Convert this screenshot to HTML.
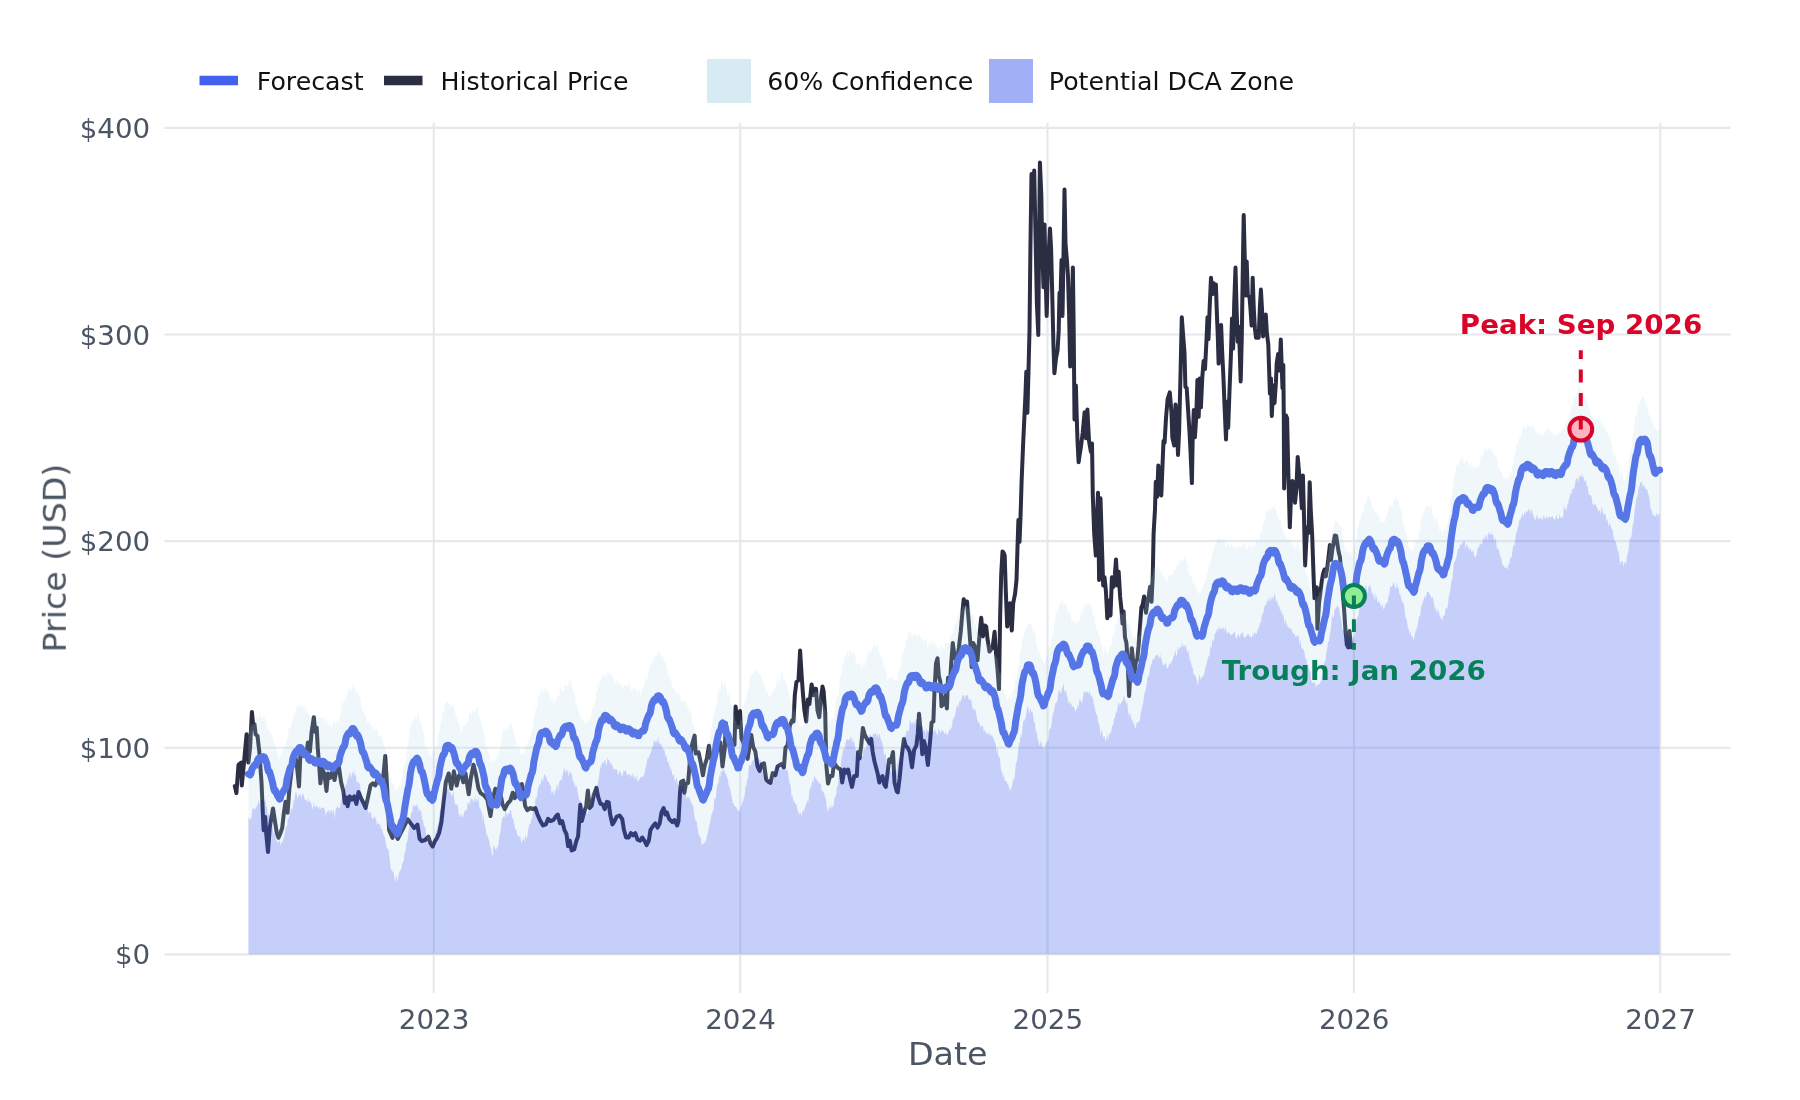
<!DOCTYPE html>
<html><head><meta charset="utf-8"><title>Price Forecast</title>
<style>
html,body{margin:0;padding:0;background:#fff}
svg{display:block}
text{font-family:"DejaVu Sans","Liberation Sans",sans-serif}
</style></head><body>
<svg width="1800" height="1100" viewBox="0 0 1800 1100">
<rect width="1800" height="1100" fill="#fff"/>

<g stroke="#e5e8ec" stroke-width="2.1" fill="none">
<path d="M164.5,127.85 H1730.6"/>
<path d="M164.5,334.5 H1730.6"/>
<path d="M164.5,541.1 H1730.6"/>
<path d="M164.5,747.75 H1730.6"/>
<path d="M164.5,954.4 H1730.6"/>
<path d="M433.75,122.8 V993.3"/>
<path d="M740.2,122.8 V993.3"/>
<path d="M1047.5,122.8 V993.3"/>
<path d="M1353.9,122.8 V993.3"/>
<path d="M1660.3,122.8 V993.3"/>
</g>
<path d="M234.8,786.1 L236.4,793.1 L238.5,764.7 L241.2,762.5 L241.8,785.5 L244.0,762.5 L246.6,734.2 L248.4,762.5 L250.1,747.3 L251.9,711.9 L253.2,725.5 L254.5,724.4 L255.6,734.2 L257.5,735.9 L259.3,751.6 L261.5,782.2 L263.0,817.1 L263.6,830.2 L265.2,817.1 L266.3,834.5 L268.0,852.0 L269.7,828.0 L270.8,821.5 L273.0,808.4 L275.0,821.5 L276.7,832.4 L278.5,837.8 L280.7,832.4 L282.2,828.0 L283.9,812.7 L285.5,801.8 L287.6,812.7 L289.4,788.7 L292.0,766.9 L295.3,756.0 L296.8,764.7 L299.0,786.5 L300.3,756.0 L302.9,756.0 L306.2,756.0 L307.9,742.5 L309.9,751.6 L311.6,732.0 L313.8,717.2 L315.3,732.0 L316.7,727.6 L317.7,747.3 L319.3,766.9 L320.4,783.3 L322.1,769.1 L324.3,773.5 L326.5,790.9 L328.0,773.5 L330.2,777.8 L332.4,771.3 L334.5,780.0 L336.7,769.1 L338.9,766.9 L341.1,782.2 L343.3,790.9 L344.8,802.9 L346.5,797.5 L347.6,806.2 L349.8,796.4 L352.0,799.6 L354.2,796.4 L356.4,804.0 L358.5,792.0 L360.7,797.5 L362.9,801.8 L365.7,807.9 L368.4,795.3 L370.5,785.5 L372.7,783.3 L375.3,785.5 L378.2,777.8 L381.5,782.2 L383.6,773.5 L385.2,756.0 L386.3,773.5 L387.3,790.9 L389.1,830.2 L392.4,837.8 L394.5,832.4 L397.8,838.9 L401.1,832.4 L404.4,825.8 L407.6,819.3 L410.9,823.6 L414.2,828.0 L417.5,824.7 L419.6,838.9 L421.8,841.1 L425.1,840.0 L428.4,836.7 L430.5,843.3 L432.7,846.5 L434.9,841.1 L437.1,837.8 L439.3,832.4 L441.5,821.5 L443.6,801.8 L445.8,782.2 L448.7,773.5 L451.3,788.7 L453.9,771.3 L456.7,785.5 L458.9,775.6 L461.1,773.5 L463.3,782.2 L465.5,773.5 L468.7,794.2 L470.9,777.8 L473.5,764.7 L475.7,773.5 L478.5,788.7 L480.7,793.1 L484.0,795.3 L487.3,799.6 L490.5,816.0 L492.7,799.6 L495.3,788.7 L498.2,790.9 L501.1,797.1 L502.6,804.7 L504.8,809.1 L507.6,803.6 L510.5,800.4 L512.7,792.7 L514.8,798.2 L517.5,790.5 L519.6,792.7 L521.8,784.0 L523.6,792.7 L525.1,805.8 L527.3,810.2 L530.5,808.0 L532.7,809.1 L535.3,808.0 L537.5,814.5 L540.4,821.1 L543.0,825.5 L545.8,824.4 L548.0,818.9 L550.6,821.1 L553.5,820.0 L555.6,816.7 L557.8,814.5 L560.0,823.3 L562.2,821.1 L564.4,829.8 L566.5,834.2 L568.1,846.2 L569.8,840.7 L571.6,850.5 L574.2,849.5 L576.4,840.7 L578.1,836.4 L579.6,814.5 L580.3,804.7 L581.8,821.1 L584.0,812.4 L586.2,805.8 L587.9,790.5 L589.5,808.0 L591.6,805.8 L593.8,794.9 L596.4,787.9 L598.2,797.1 L600.4,803.6 L603.0,804.7 L604.7,809.1 L606.9,801.9 L608.7,802.5 L610.2,814.5 L612.4,824.4 L614.5,821.1 L616.7,816.7 L619.6,815.6 L622.2,818.9 L623.9,829.8 L626.1,837.5 L628.7,837.5 L630.9,833.1 L633.1,835.3 L635.3,833.1 L637.5,839.6 L640.1,840.7 L642.3,837.5 L644.4,840.7 L646.6,845.1 L648.8,840.7 L650.5,829.8 L652.7,826.5 L655.3,823.3 L657.5,827.6 L659.7,823.3 L661.5,812.4 L663.6,808.0 L665.4,814.5 L666.9,812.4 L669.1,818.9 L672.4,822.2 L674.5,820.0 L677.2,825.5 L678.5,821.1 L680.0,792.7 L681.1,781.8 L683.3,780.7 L684.4,792.7 L685.9,784.0 L688.1,782.9 L689.8,762.2 L692.0,744.7 L694.6,735.6 L695.7,753.5 L698.5,752.4 L700.7,762.2 L702.9,775.3 L704.7,765.5 L706.8,758.9 L709.0,745.8 L710.5,757.8 L712.7,761.1 L715.6,753.5 L718.2,749.1 L720.4,742.5 L722.5,766.5 L724.7,749.1 L725.8,722.9 L728.0,744.7 L730.2,738.2 L732.4,742.5 L734.5,744.7 L735.6,706.5 L737.8,727.3 L740.0,710.9 L741.5,738.2 L743.3,742.5 L745.5,749.1 L747.6,758.9 L749.8,744.7 L751.3,734.9 L753.1,746.9 L755.3,751.3 L757.5,766.5 L759.6,770.9 L761.8,764.4 L764.0,763.3 L766.2,779.6 L768.4,781.8 L770.5,782.9 L772.7,773.1 L775.3,775.3 L777.5,766.5 L781.7,764.0 L783.9,767.3 L785.5,747.6 L787.6,745.5 L789.8,725.8 L792.0,720.4 L793.5,721.5 L794.8,695.3 L796.4,682.2 L798.5,680.0 L800.1,650.5 L801.8,677.8 L802.9,693.1 L804.4,710.5 L806.2,721.5 L807.9,699.6 L809.5,704.0 L811.6,684.4 L813.2,695.3 L814.5,688.7 L816.0,688.7 L817.5,710.5 L819.3,717.1 L820.8,699.6 L822.5,686.5 L823.6,690.9 L825.2,712.7 L826.3,765.1 L828.0,783.6 L830.2,776.0 L832.4,776.0 L834.1,762.9 L836.3,766.2 L838.5,768.4 L840.7,769.5 L842.2,782.5 L844.4,769.5 L846.5,772.7 L848.1,769.5 L849.8,778.2 L852.0,786.9 L854.2,776.0 L856.8,776.0 L858.1,752.0 L859.6,758.5 L861.2,745.5 L862.9,728.0 L864.7,734.5 L866.8,738.9 L869.5,743.3 L871.2,738.9 L872.7,752.0 L874.3,760.7 L876.0,767.3 L877.7,773.8 L879.3,782.5 L880.8,778.2 L882.5,776.0 L884.3,784.7 L885.8,786.9 L888.0,769.5 L889.1,759.6 L890.8,761.8 L893.0,752.0 L894.5,782.5 L896.7,791.3 L897.8,792.4 L899.6,778.2 L901.7,756.4 L903.9,738.9 L905.5,745.5 L907.6,747.6 L909.8,752.0 L912.0,767.3 L914.2,749.8 L916.4,745.5 L917.9,732.4 L919.0,713.8 L920.7,732.4 L922.3,754.2 L924.0,741.1 L925.7,747.6 L927.9,765.1 L930.1,741.1 L931.6,722.5 L933.4,721.5 L934.5,690.9 L936.0,663.6 L937.5,658.2 L938.8,675.6 L940.4,682.2 L941.5,706.2 L943.6,704.0 L945.4,695.3 L946.9,708.4 L948.0,677.8 L949.7,688.7 L951.3,661.5 L952.8,642.9 L954.5,656.0 L956.7,662.5 L958.9,647.3 L960.7,632.0 L962.2,614.5 L963.7,599.3 L965.5,603.6 L967.0,601.5 L968.7,621.1 L970.3,642.9 L971.6,666.9 L973.1,642.9 L975.3,647.3 L977.5,660.4 L979.6,634.2 L981.2,617.8 L982.9,636.4 L984.7,625.5 L986.2,626.5 L987.7,640.7 L989.5,651.6 L992.7,646.8 L994.6,631.8 L996.0,653.6 L997.6,670.0 L999.0,689.1 L1000.1,618.2 L1001.2,574.5 L1002.5,551.4 L1003.6,552.7 L1004.7,555.5 L1005.8,590.9 L1007.2,626.4 L1008.5,615.5 L1009.9,603.2 L1011.8,630.5 L1013.2,603.2 L1015.1,593.6 L1016.5,580.0 L1017.5,547.3 L1018.4,520.0 L1019.5,541.8 L1020.5,517.3 L1021.6,481.8 L1022.7,454.5 L1023.3,440.0 L1024.1,423.6 L1025.5,393.6 L1026.3,371.8 L1027.4,412.7 L1028.5,370.5 L1029.5,330.9 L1030.4,249.1 L1031.5,174.1 L1032.8,200.0 L1034.2,170.5 L1035.5,235.5 L1036.9,303.6 L1038.3,335.0 L1039.1,235.5 L1039.9,162.4 L1041.3,194.5 L1042.4,254.5 L1043.5,287.3 L1044.5,224.5 L1045.6,276.4 L1046.7,315.9 L1047.8,270.9 L1048.9,249.1 L1050.0,228.6 L1051.1,249.1 L1052.2,292.7 L1053.5,347.3 L1054.4,373.2 L1056.0,358.2 L1057.6,350.0 L1058.7,330.9 L1059.5,292.7 L1060.4,303.6 L1061.5,260.0 L1062.5,315.9 L1063.6,249.1 L1064.5,189.6 L1065.5,243.6 L1066.9,260.0 L1068.0,276.4 L1069.1,314.5 L1070.2,366.4 L1071.3,330.9 L1072.9,267.6 L1073.7,330.9 L1074.5,419.5 L1075.9,385.5 L1076.7,416.4 L1077.5,440.9 L1078.6,462.2 L1079.7,454.5 L1080.8,447.7 L1082.7,432.7 L1084.6,412.3 L1086.0,438.2 L1087.4,409.5 L1089.0,440.9 L1090.9,451.8 L1092.0,443.6 L1092.8,495.5 L1094.2,533.6 L1095.8,555.5 L1096.9,520.0 L1098.0,492.7 L1099.1,580.0 L1100.5,498.2 L1101.8,541.8 L1103.2,585.5 L1104.5,577.3 L1105.9,590.9 L1107.3,618.2 L1109.2,600.5 L1110.5,615.5 L1111.9,577.3 L1113.5,586.8 L1114.9,574.5 L1116.0,559.5 L1117.4,585.5 L1118.7,571.8 L1120.1,596.4 L1121.5,610.0 L1122.5,623.6 L1123.6,611.4 L1125.0,637.3 L1126.4,642.7 L1127.7,661.8 L1129.1,695.9 L1130.5,668.6 L1131.8,648.2 L1133.2,661.8 L1134.5,672.7 L1135.9,661.8 L1137.3,659.1 L1138.6,645.5 L1140.0,626.4 L1141.4,607.3 L1142.7,604.5 L1144.1,596.4 L1146.0,612.7 L1147.4,601.8 L1148.7,596.4 L1150.1,586.8 L1151.5,601.8 L1152.8,574.5 L1153.6,533.6 L1155.0,509.1 L1155.8,481.8 L1157.2,496.8 L1158.3,465.5 L1159.6,481.8 L1161.3,495.5 L1162.4,468.2 L1163.5,440.9 L1164.6,442.7 L1166.0,418.2 L1167.6,399.1 L1169.8,392.3 L1171.5,412.7 L1172.3,437.3 L1174.2,445.5 L1175.5,404.5 L1176.9,423.6 L1178.0,455.0 L1179.1,431.8 L1180.5,374.5 L1181.8,317.3 L1183.2,336.4 L1184.5,352.7 L1185.4,386.8 L1186.7,388.2 L1188.1,410.0 L1189.5,431.8 L1190.5,450.9 L1191.9,483.1 L1192.7,437.3 L1193.8,410.0 L1194.9,437.3 L1196.3,415.5 L1197.4,380.0 L1198.7,416.8 L1199.8,378.6 L1200.9,407.3 L1202.3,377.3 L1203.6,360.9 L1205.0,369.1 L1206.4,341.8 L1207.5,317.3 L1208.5,339.1 L1209.6,309.1 L1211.0,277.7 L1212.4,294.1 L1213.7,283.2 L1215.1,294.1 L1215.9,284.5 L1216.7,309.1 L1217.8,336.4 L1218.6,363.6 L1220.0,341.8 L1221.1,324.9 L1222.2,352.7 L1223.3,374.5 L1224.6,407.3 L1226.0,439.5 L1227.1,401.8 L1228.2,427.7 L1229.5,390.9 L1230.9,355.5 L1232.0,318.6 L1233.1,348.6 L1234.2,303.6 L1235.5,267.6 L1236.6,309.1 L1237.7,341.8 L1238.8,326.8 L1239.6,347.3 L1240.7,381.4 L1241.8,336.4 L1242.6,281.8 L1243.7,215.0 L1244.8,260.0 L1245.6,295.5 L1246.7,261.4 L1247.8,295.5 L1249.5,296.8 L1250.5,309.1 L1251.6,325.5 L1252.7,277.7 L1253.8,309.1 L1254.9,328.2 L1256.0,337.7 L1257.6,330.9 L1258.7,337.7 L1259.8,309.1 L1260.9,289.5 L1262.0,309.1 L1263.1,336.4 L1264.5,317.3 L1265.8,314.5 L1266.9,333.6 L1268.3,344.5 L1269.1,369.1 L1269.9,393.6 L1271.0,378.6 L1271.8,416.0 L1273.2,385.5 L1274.5,403.2 L1275.9,382.7 L1276.7,363.6 L1278.1,354.1 L1279.2,370.5 L1280.0,358.2 L1280.8,339.6 L1281.6,363.6 L1282.5,388.2 L1283.3,365.0 L1283.8,418.2 L1284.1,488.5 L1286.0,415.5 L1287.1,418.2 L1288.2,467.3 L1289.8,527.3 L1290.9,500.0 L1292.3,480.9 L1293.6,482.3 L1295.0,502.7 L1296.4,489.1 L1297.7,456.9 L1299.1,472.7 L1300.5,486.4 L1301.8,508.2 L1302.9,475.5 L1304.0,516.4 L1305.1,565.5 L1306.2,543.6 L1307.3,527.3 L1308.6,532.7 L1309.7,482.3 L1310.8,510.9 L1312.2,535.5 L1313.3,568.2 L1314.4,598.2 L1315.5,588.6 L1316.8,587.3 L1317.4,628.7 L1319.0,603.6 L1320.4,592.7 L1321.7,581.8 L1323.1,573.6 L1324.5,569.5 L1325.8,576.4 L1327.2,568.2 L1328.5,557.3 L1329.9,545.0 L1331.0,560.0 L1332.4,549.1 L1333.5,543.6 L1334.8,535.5 L1336.2,536.0 L1337.3,543.6 L1338.6,551.8 L1340.0,557.3 L1341.4,576.4 L1342.7,592.7 L1344.1,609.1 L1345.5,630.9 L1346.8,644.5 L1348.2,647.3 L1349.5,630.9 L1350.9,647.3 L1352.5,645.9" fill="none" stroke="#2b2d42" stroke-width="4" stroke-linejoin="round" stroke-linecap="round"/>
<path d="M248.4,736.5 L249.2,730.2 L250.1,728.9 L250.9,722.0 L251.8,727.5 L252.6,724.9 L253.4,723.2 L254.3,724.1 L255.1,722.5 L256.0,717.1 L256.8,716.7 L257.6,715.9 L258.5,718.8 L259.3,717.5 L260.2,712.2 L261.0,713.4 L261.8,717.8 L262.7,719.8 L263.5,716.4 L264.4,714.8 L265.2,720.9 L266.0,719.7 L266.9,724.1 L267.7,728.7 L268.5,729.4 L269.4,730.4 L270.2,734.9 L271.1,732.9 L271.9,736.3 L272.7,737.5 L273.6,741.4 L274.4,743.0 L275.3,746.2 L276.1,748.2 L276.9,753.0 L277.8,754.4 L278.6,756.7 L279.5,759.2 L280.3,751.4 L281.1,757.4 L282.0,753.0 L282.8,748.9 L283.7,750.5 L284.5,748.3 L285.3,748.4 L286.2,740.1 L287.0,740.2 L287.9,736.7 L288.7,728.5 L289.5,726.5 L290.4,728.3 L291.2,725.3 L292.1,722.8 L292.9,718.7 L293.7,715.7 L294.6,713.7 L295.4,714.2 L296.3,707.0 L297.1,707.2 L297.9,708.4 L298.8,702.9 L299.6,709.3 L300.5,702.9 L301.3,704.9 L302.1,711.6 L303.0,704.8 L303.8,705.8 L304.6,711.9 L305.5,705.9 L306.3,708.8 L307.2,712.6 L308.0,713.1 L308.8,715.2 L309.7,714.5 L310.5,718.3 L311.4,717.9 L312.2,717.6 L313.0,714.6 L313.9,715.5 L314.7,712.2 L315.6,720.0 L316.4,712.6 L317.2,720.2 L318.1,722.7 L318.9,715.7 L319.8,716.9 L320.6,717.4 L321.4,720.5 L322.3,716.6 L323.1,718.5 L324.0,718.1 L324.8,719.4 L325.6,723.7 L326.5,718.9 L327.3,722.3 L328.2,724.0 L329.0,726.3 L329.8,722.0 L330.7,727.9 L331.5,726.3 L332.4,727.0 L333.2,724.5 L334.0,719.8 L334.9,722.2 L335.7,724.4 L336.6,721.7 L337.4,720.1 L338.2,723.9 L339.1,723.2 L339.9,714.7 L340.7,716.1 L341.6,703.4 L342.4,700.7 L343.3,705.4 L344.1,700.6 L344.9,700.2 L345.8,698.0 L346.6,694.5 L347.5,694.6 L348.3,691.7 L349.1,686.8 L350.0,689.6 L350.8,688.6 L351.7,691.8 L352.5,684.2 L353.3,687.6 L354.2,687.3 L355.0,688.5 L355.9,693.7 L356.7,691.7 L357.5,690.9 L358.4,693.7 L359.2,697.7 L360.1,695.9 L360.9,700.4 L361.7,708.3 L362.6,710.5 L363.4,711.2 L364.3,713.2 L365.1,716.2 L365.9,714.4 L366.8,722.8 L367.6,722.6 L368.5,723.1 L369.3,720.3 L370.1,723.0 L371.0,726.7 L371.8,727.3 L372.7,726.2 L373.5,730.2 L374.3,731.6 L375.2,728.5 L376.0,729.6 L376.8,729.6 L377.7,730.1 L378.5,736.2 L379.4,736.2 L380.2,737.3 L381.0,734.8 L381.9,736.2 L382.7,741.7 L383.6,742.8 L384.4,747.6 L385.2,749.0 L386.1,756.2 L386.9,763.8 L387.8,768.6 L388.6,772.1 L389.4,772.0 L390.3,777.2 L391.1,777.5 L392.0,783.7 L392.8,783.3 L393.6,785.1 L394.5,785.8 L395.3,791.1 L396.2,790.8 L397.0,790.4 L397.8,786.4 L398.7,787.4 L399.5,781.6 L400.4,787.2 L401.2,780.2 L402.0,778.2 L402.9,774.5 L403.7,766.8 L404.6,763.5 L405.4,762.0 L406.2,760.9 L407.1,749.4 L407.9,744.6 L408.8,739.8 L409.6,730.6 L410.4,726.3 L411.3,725.3 L412.1,722.2 L412.9,718.7 L413.8,722.1 L414.6,716.4 L415.5,717.0 L416.3,719.7 L417.1,719.3 L418.0,712.5 L418.8,717.4 L419.7,723.3 L420.5,719.8 L421.3,724.4 L422.2,726.1 L423.0,729.7 L423.9,733.8 L424.7,741.2 L425.5,747.7 L426.4,751.3 L427.2,749.6 L428.1,747.5 L428.9,754.5 L429.7,755.5 L430.6,757.3 L431.4,755.2 L432.3,750.7 L433.1,755.4 L433.9,747.5 L434.8,748.1 L435.6,747.8 L436.5,745.1 L437.3,744.1 L438.1,729.6 L439.0,732.4 L439.8,729.0 L440.7,722.3 L441.5,719.9 L442.3,711.8 L443.2,713.2 L444.0,710.4 L444.9,704.0 L445.7,702.7 L446.5,702.4 L447.4,700.7 L448.2,704.5 L449.0,702.1 L449.9,705.3 L450.7,705.9 L451.6,704.0 L452.4,705.3 L453.2,706.3 L454.1,709.0 L454.9,711.7 L455.8,716.6 L456.6,716.0 L457.4,720.6 L458.3,723.0 L459.1,723.4 L460.0,726.2 L460.8,731.1 L461.6,731.6 L462.5,726.0 L463.3,727.5 L464.2,725.7 L465.0,723.8 L465.8,726.1 L466.7,722.3 L467.5,722.2 L468.4,720.6 L469.2,713.4 L470.0,712.5 L470.9,712.8 L471.7,714.2 L472.6,709.7 L473.4,710.7 L474.2,711.9 L475.1,711.3 L475.9,709.4 L476.8,707.1 L477.6,706.5 L478.4,715.8 L479.3,717.1 L480.1,716.9 L480.9,721.7 L481.8,725.7 L482.6,725.6 L483.5,733.9 L484.3,734.7 L485.1,739.2 L486.0,745.6 L486.8,746.8 L487.7,750.6 L488.5,752.4 L489.3,754.2 L490.2,755.9 L491.0,762.8 L491.9,759.2 L492.7,763.8 L493.5,757.9 L494.4,762.3 L495.2,760.5 L496.1,758.4 L496.9,753.0 L497.7,761.4 L498.6,752.1 L499.4,749.5 L500.3,747.7 L501.1,741.7 L501.9,737.2 L502.8,731.3 L503.6,726.7 L504.5,731.8 L505.3,726.6 L506.1,728.5 L507.0,729.3 L507.8,730.2 L508.7,726.3 L509.5,725.4 L510.3,725.2 L511.2,722.2 L512.0,727.3 L512.9,728.7 L513.7,730.5 L514.5,736.7 L515.4,738.1 L516.2,745.7 L517.0,747.9 L517.9,741.0 L518.7,748.0 L519.6,747.2 L520.4,753.5 L521.2,753.3 L522.1,755.4 L522.9,753.5 L523.8,754.7 L524.6,751.5 L525.4,745.2 L526.3,746.1 L527.1,744.8 L528.0,743.1 L528.8,738.8 L529.6,742.1 L530.5,733.5 L531.3,734.0 L532.2,726.9 L533.0,727.8 L533.8,716.3 L534.7,717.4 L535.5,708.8 L536.4,709.2 L537.2,707.6 L538.0,695.2 L538.9,694.7 L539.7,695.2 L540.6,691.5 L541.4,687.4 L542.2,693.1 L543.1,689.8 L543.9,693.1 L544.8,690.2 L545.6,687.1 L546.4,689.4 L547.3,694.3 L548.1,689.2 L549.0,693.3 L549.8,697.6 L550.6,700.6 L551.5,701.2 L552.3,697.0 L553.1,707.4 L554.0,701.9 L554.8,701.8 L555.7,701.2 L556.5,698.8 L557.3,696.1 L558.2,696.0 L559.0,698.3 L559.9,689.8 L560.7,686.2 L561.5,692.2 L562.4,690.0 L563.2,689.7 L564.1,691.3 L564.9,684.3 L565.7,685.1 L566.6,684.8 L567.4,686.7 L568.3,686.3 L569.1,680.8 L569.9,679.8 L570.8,683.3 L571.6,681.3 L572.5,691.2 L573.3,689.2 L574.1,692.4 L575.0,694.8 L575.8,703.8 L576.7,703.4 L577.5,705.7 L578.3,710.8 L579.2,711.9 L580.0,715.8 L580.9,719.1 L581.7,716.8 L582.5,720.0 L583.4,720.7 L584.2,724.0 L585.1,723.3 L585.9,722.6 L586.7,721.2 L587.6,722.7 L588.4,718.1 L589.2,721.7 L590.1,718.3 L590.9,717.3 L591.8,711.9 L592.6,707.9 L593.4,705.0 L594.3,707.5 L595.1,700.3 L596.0,697.1 L596.8,690.0 L597.6,690.9 L598.5,678.9 L599.3,688.8 L600.2,681.8 L601.0,680.4 L601.8,674.8 L602.7,673.9 L603.5,677.0 L604.4,674.0 L605.2,675.0 L606.0,677.4 L606.9,675.9 L607.7,669.5 L608.6,672.6 L609.4,673.0 L610.2,674.6 L611.1,672.6 L611.9,673.5 L612.8,677.9 L613.6,679.8 L614.4,683.6 L615.3,682.0 L616.1,686.5 L617.0,678.7 L617.8,680.5 L618.6,684.8 L619.5,683.8 L620.3,681.9 L621.2,686.6 L622.0,688.0 L622.8,688.3 L623.7,684.3 L624.5,685.4 L625.3,685.3 L626.2,684.8 L627.0,687.8 L627.9,684.7 L628.7,687.3 L629.5,680.4 L630.4,688.5 L631.2,691.5 L632.1,688.1 L632.9,691.2 L633.7,684.2 L634.6,689.0 L635.4,686.9 L636.3,692.3 L637.1,692.7 L637.9,688.4 L638.8,690.1 L639.6,690.8 L640.5,697.5 L641.3,690.6 L642.1,689.9 L643.0,689.1 L643.8,687.0 L644.7,683.3 L645.5,678.7 L646.3,677.9 L647.2,681.1 L648.0,674.2 L648.9,670.3 L649.7,665.7 L650.5,666.4 L651.4,663.7 L652.2,659.8 L653.1,661.7 L653.9,656.9 L654.7,656.2 L655.6,656.8 L656.4,654.2 L657.3,655.7 L658.1,651.3 L658.9,650.9 L659.8,653.1 L660.6,653.3 L661.4,656.9 L662.3,655.9 L663.1,657.0 L664.0,660.4 L664.8,663.3 L665.6,661.4 L666.5,666.6 L667.3,668.8 L668.2,675.8 L669.0,674.0 L669.8,681.2 L670.7,677.4 L671.5,683.8 L672.4,688.5 L673.2,687.4 L674.0,693.0 L674.9,686.5 L675.7,692.4 L676.6,694.4 L677.4,694.3 L678.2,691.5 L679.1,697.9 L679.9,691.1 L680.8,700.6 L681.6,700.8 L682.4,702.7 L683.3,700.3 L684.1,700.1 L685.0,701.8 L685.8,702.4 L686.6,705.8 L687.5,705.1 L688.3,708.7 L689.2,711.0 L690.0,715.1 L690.8,709.6 L691.7,717.0 L692.5,723.0 L693.4,726.2 L694.2,726.8 L695.0,731.2 L695.9,735.1 L696.7,738.8 L697.5,740.7 L698.4,744.3 L699.2,745.6 L700.1,749.9 L700.9,756.2 L701.7,751.7 L702.6,757.5 L703.4,760.9 L704.3,756.9 L705.1,761.1 L705.9,752.4 L706.8,754.8 L707.6,747.8 L708.5,741.1 L709.3,740.8 L710.1,740.0 L711.0,729.2 L711.8,726.8 L712.7,719.0 L713.5,714.7 L714.3,713.4 L715.2,707.4 L716.0,705.0 L716.9,702.3 L717.7,693.2 L718.5,690.3 L719.4,688.6 L720.2,691.9 L721.1,682.9 L721.9,680.8 L722.7,682.7 L723.6,687.6 L724.4,681.6 L725.3,684.3 L726.1,687.8 L726.9,692.0 L727.8,698.5 L728.6,692.5 L729.5,694.5 L730.3,702.2 L731.1,705.8 L732.0,701.7 L732.8,709.5 L733.6,716.4 L734.5,715.9 L735.3,720.4 L736.2,721.6 L737.0,725.2 L737.8,725.7 L738.7,724.5 L739.5,725.7 L740.4,719.3 L741.2,719.8 L742.0,719.7 L742.9,710.7 L743.7,706.9 L744.6,702.4 L745.4,697.5 L746.2,701.0 L747.1,692.9 L747.9,691.7 L748.8,685.1 L749.6,679.7 L750.4,675.8 L751.3,675.4 L752.1,673.2 L753.0,673.7 L753.8,668.2 L754.6,670.8 L755.5,671.9 L756.3,670.2 L757.2,670.1 L758.0,672.1 L758.8,673.4 L759.7,673.9 L760.5,675.3 L761.4,676.5 L762.2,682.1 L763.0,682.5 L763.9,681.2 L764.7,687.2 L765.6,691.3 L766.4,692.2 L767.2,690.7 L768.1,695.9 L768.9,695.9 L769.7,695.9 L770.6,697.5 L771.4,692.6 L772.3,694.2 L773.1,690.0 L773.9,691.4 L774.8,689.5 L775.6,686.2 L776.5,684.0 L777.3,678.1 L778.1,681.0 L779.0,675.8 L779.8,683.5 L780.7,681.3 L781.5,673.1 L782.3,670.9 L783.2,680.8 L784.0,675.6 L784.9,681.6 L785.7,679.5 L786.5,685.0 L787.4,686.0 L788.2,692.1 L789.1,693.1 L789.9,701.7 L790.7,698.8 L791.6,706.9 L792.4,706.8 L793.3,711.5 L794.1,708.8 L794.9,711.2 L795.8,719.9 L796.6,715.5 L797.5,720.7 L798.3,722.7 L799.1,723.1 L800.0,727.4 L800.8,724.6 L801.7,725.8 L802.5,731.3 L803.3,724.6 L804.2,726.2 L805.0,723.4 L805.8,722.9 L806.7,717.1 L807.5,708.6 L808.4,707.7 L809.2,705.8 L810.0,707.4 L810.9,701.8 L811.7,696.2 L812.6,696.1 L813.4,692.3 L814.2,693.9 L815.1,691.0 L815.9,692.9 L816.8,691.0 L817.6,692.9 L818.4,691.1 L819.3,695.3 L820.1,695.5 L821.0,699.7 L821.8,700.6 L822.6,702.6 L823.5,703.9 L824.3,706.8 L825.2,711.2 L826.0,706.8 L826.8,717.8 L827.7,711.1 L828.5,718.6 L829.4,719.5 L830.2,722.4 L831.0,720.8 L831.9,719.7 L832.7,718.8 L833.6,717.8 L834.4,717.4 L835.2,709.2 L836.1,698.8 L836.9,698.2 L837.8,695.3 L838.6,697.9 L839.4,682.0 L840.3,677.5 L841.1,675.1 L841.9,669.7 L842.8,661.9 L843.6,664.0 L844.5,654.9 L845.3,655.9 L846.1,657.8 L847.0,649.9 L847.8,651.9 L848.7,656.6 L849.5,651.1 L850.3,649.6 L851.2,651.1 L852.0,655.7 L852.9,650.5 L853.7,654.4 L854.5,653.4 L855.4,656.7 L856.2,665.3 L857.1,662.5 L857.9,662.3 L858.7,665.6 L859.6,664.0 L860.4,663.4 L861.3,668.8 L862.1,666.9 L862.9,662.3 L863.8,665.8 L864.6,666.4 L865.5,662.1 L866.3,660.2 L867.1,654.9 L868.0,655.7 L868.8,649.4 L869.7,654.8 L870.5,650.2 L871.3,653.2 L872.2,646.8 L873.0,649.2 L873.8,642.6 L874.7,645.2 L875.5,647.1 L876.4,646.5 L877.2,646.4 L878.0,643.5 L878.9,653.0 L879.7,653.2 L880.6,656.5 L881.4,658.9 L882.2,657.4 L883.1,662.2 L883.9,671.4 L884.8,664.9 L885.6,670.8 L886.4,671.2 L887.3,679.8 L888.1,679.0 L889.0,677.4 L889.8,679.1 L890.6,678.3 L891.5,677.1 L892.3,676.2 L893.2,680.5 L894.0,678.9 L894.8,682.4 L895.7,679.3 L896.5,679.5 L897.4,680.8 L898.2,670.8 L899.0,668.3 L899.9,670.4 L900.7,669.4 L901.6,658.1 L902.4,653.0 L903.2,653.1 L904.1,649.6 L904.9,648.4 L905.8,640.6 L906.6,640.2 L907.4,637.7 L908.3,632.6 L909.1,630.7 L909.9,634.5 L910.8,634.5 L911.6,630.6 L912.5,637.2 L913.3,635.2 L914.1,634.3 L915.0,635.5 L915.8,634.8 L916.7,635.9 L917.5,636.6 L918.3,635.5 L919.2,631.8 L920.0,637.6 L920.9,637.2 L921.7,637.7 L922.5,643.1 L923.4,637.6 L924.2,644.9 L925.1,640.9 L925.9,639.1 L926.7,639.9 L927.6,648.3 L928.4,645.8 L929.3,641.3 L930.1,644.1 L930.9,646.7 L931.8,639.6 L932.6,640.8 L933.5,644.1 L934.3,643.6 L935.1,642.7 L936.0,648.4 L936.8,645.8 L937.7,646.6 L938.5,651.4 L939.3,646.8 L940.2,652.7 L941.0,646.2 L941.9,645.7 L942.7,646.9 L943.5,649.5 L944.4,648.7 L945.2,647.3 L946.0,641.8 L946.9,642.6 L947.7,643.2 L948.6,643.7 L949.4,644.2 L950.2,632.6 L951.1,637.0 L951.9,633.9 L952.8,632.0 L953.6,630.3 L954.4,625.3 L955.3,621.3 L956.1,624.4 L957.0,621.6 L957.8,615.6 L958.6,614.9 L959.5,612.8 L960.3,609.2 L961.2,612.9 L962.0,608.6 L962.8,605.3 L963.7,606.3 L964.5,611.1 L965.4,606.2 L966.2,606.2 L967.0,606.4 L967.9,608.8 L968.7,609.8 L969.6,605.3 L970.4,608.9 L971.2,610.1 L972.1,614.4 L972.9,616.4 L973.8,614.1 L974.6,624.5 L975.4,625.3 L976.3,622.8 L977.1,632.2 L978.0,631.6 L978.8,634.6 L979.6,634.7 L980.5,636.9 L981.3,637.4 L982.1,635.9 L983.0,639.6 L983.8,642.4 L984.7,643.1 L985.5,645.8 L986.3,644.6 L987.2,638.8 L988.0,647.2 L988.9,644.2 L989.7,644.2 L990.5,647.4 L991.4,645.7 L992.2,650.2 L993.1,648.1 L993.9,656.7 L994.7,654.4 L995.6,655.6 L996.4,658.4 L997.3,658.0 L998.1,665.4 L998.9,669.5 L999.8,674.0 L1000.6,671.9 L1001.5,681.2 L1002.3,687.8 L1003.1,687.2 L1004.0,690.9 L1004.8,694.4 L1005.7,693.8 L1006.5,696.2 L1007.3,700.8 L1008.2,699.7 L1009.0,695.4 L1009.9,693.5 L1010.7,703.0 L1011.5,696.8 L1012.4,689.7 L1013.2,691.1 L1014.1,688.5 L1014.9,684.0 L1015.7,675.0 L1016.6,679.6 L1017.4,672.2 L1018.2,665.0 L1019.1,662.3 L1019.9,655.5 L1020.8,650.2 L1021.6,647.5 L1022.4,636.3 L1023.3,639.5 L1024.1,633.9 L1025.0,631.2 L1025.8,628.7 L1026.6,628.1 L1027.5,626.6 L1028.3,624.8 L1029.2,622.0 L1030.0,624.7 L1030.8,623.3 L1031.7,624.8 L1032.5,630.1 L1033.4,631.6 L1034.2,636.1 L1035.0,630.1 L1035.9,640.7 L1036.7,644.9 L1037.6,646.3 L1038.4,653.0 L1039.2,650.4 L1040.1,656.2 L1040.9,656.5 L1041.8,660.3 L1042.6,659.7 L1043.4,662.6 L1044.3,663.9 L1045.1,661.1 L1046.0,659.6 L1046.8,654.4 L1047.6,656.5 L1048.5,647.6 L1049.3,646.6 L1050.2,645.2 L1051.0,640.1 L1051.8,638.4 L1052.7,633.1 L1053.5,633.1 L1054.3,625.4 L1055.2,620.0 L1056.0,613.1 L1056.9,612.3 L1057.7,611.1 L1058.5,607.8 L1059.4,603.0 L1060.2,603.1 L1061.1,603.2 L1061.9,603.2 L1062.7,598.9 L1063.6,607.5 L1064.4,602.8 L1065.3,604.3 L1066.1,603.7 L1066.9,606.7 L1067.8,614.5 L1068.6,610.2 L1069.5,613.0 L1070.3,613.5 L1071.1,616.9 L1072.0,623.7 L1072.8,619.6 L1073.7,621.4 L1074.5,618.7 L1075.3,623.1 L1076.2,624.2 L1077.0,621.4 L1077.9,620.4 L1078.7,621.8 L1079.5,619.3 L1080.4,616.0 L1081.2,611.9 L1082.1,608.2 L1082.9,613.9 L1083.7,603.9 L1084.6,608.0 L1085.4,604.6 L1086.3,602.5 L1087.1,606.3 L1087.9,601.5 L1088.8,606.6 L1089.6,601.2 L1090.4,605.6 L1091.3,608.9 L1092.1,605.6 L1093.0,616.6 L1093.8,616.7 L1094.6,612.7 L1095.5,625.5 L1096.3,630.8 L1097.2,628.7 L1098.0,632.4 L1098.8,637.2 L1099.7,634.5 L1100.5,642.1 L1101.4,646.3 L1102.2,645.3 L1103.0,651.5 L1103.9,655.7 L1104.7,645.9 L1105.6,648.0 L1106.4,651.3 L1107.2,655.2 L1108.1,653.0 L1108.9,648.4 L1109.8,646.0 L1110.6,645.3 L1111.4,647.5 L1112.3,636.8 L1113.1,634.2 L1114.0,635.3 L1114.8,628.1 L1115.6,623.0 L1116.5,625.5 L1117.3,620.4 L1118.2,615.6 L1119.0,614.0 L1119.8,615.5 L1120.7,612.4 L1121.5,613.3 L1122.4,615.0 L1123.2,614.9 L1124.0,608.3 L1124.9,612.7 L1125.7,615.3 L1126.5,618.0 L1127.4,621.8 L1128.2,625.6 L1129.1,623.9 L1129.9,624.4 L1130.7,630.1 L1131.6,630.7 L1132.4,638.1 L1133.3,636.2 L1134.1,636.1 L1134.9,639.7 L1135.8,636.7 L1136.6,637.8 L1137.5,637.0 L1138.3,637.1 L1139.1,636.0 L1140.0,631.9 L1140.8,628.6 L1141.7,621.3 L1142.5,618.3 L1143.3,611.8 L1144.2,611.3 L1145.0,602.5 L1145.9,598.4 L1146.7,594.5 L1147.5,591.7 L1148.4,584.1 L1149.2,582.2 L1150.1,577.4 L1150.9,573.6 L1151.7,578.2 L1152.6,574.4 L1153.4,567.4 L1154.3,567.2 L1155.1,570.3 L1155.9,566.4 L1156.8,564.0 L1157.6,570.1 L1158.5,566.6 L1159.3,568.3 L1160.1,572.2 L1161.0,570.1 L1161.8,573.3 L1162.6,575.3 L1163.5,577.6 L1164.3,575.1 L1165.2,580.6 L1166.0,578.7 L1166.8,582.7 L1167.7,579.0 L1168.5,576.5 L1169.4,576.1 L1170.2,573.5 L1171.0,575.5 L1171.9,574.7 L1172.7,575.1 L1173.6,571.0 L1174.4,567.7 L1175.2,571.0 L1176.1,565.4 L1176.9,564.9 L1177.8,566.2 L1178.6,565.0 L1179.4,559.1 L1180.3,558.9 L1181.1,561.6 L1182.0,560.2 L1182.8,559.6 L1183.6,561.3 L1184.5,554.7 L1185.3,560.8 L1186.2,559.8 L1187.0,563.7 L1187.8,566.7 L1188.7,571.6 L1189.5,574.9 L1190.4,575.5 L1191.2,576.1 L1192.0,577.4 L1192.9,583.8 L1193.7,584.1 L1194.6,580.4 L1195.4,586.7 L1196.2,589.9 L1197.1,587.6 L1197.9,591.4 L1198.7,595.5 L1199.6,591.4 L1200.4,592.3 L1201.3,591.8 L1202.1,588.6 L1202.9,587.7 L1203.8,583.7 L1204.6,582.1 L1205.5,577.4 L1206.3,578.2 L1207.1,573.0 L1208.0,572.3 L1208.8,564.2 L1209.7,563.8 L1210.5,562.7 L1211.3,559.1 L1212.2,553.1 L1213.0,551.2 L1213.9,548.8 L1214.7,545.3 L1215.5,543.5 L1216.4,544.0 L1217.2,538.8 L1218.1,536.7 L1218.9,538.8 L1219.7,540.9 L1220.6,533.7 L1221.4,542.8 L1222.3,539.4 L1223.1,540.9 L1223.9,537.5 L1224.8,541.3 L1225.6,546.4 L1226.5,547.4 L1227.3,545.5 L1228.1,543.5 L1229.0,545.2 L1229.8,549.2 L1230.7,544.3 L1231.5,544.4 L1232.3,546.4 L1233.2,549.1 L1234.0,543.9 L1234.8,547.5 L1235.7,548.2 L1236.5,547.2 L1237.4,546.3 L1238.2,549.3 L1239.0,547.4 L1239.9,542.2 L1240.7,549.3 L1241.6,545.8 L1242.4,546.1 L1243.2,544.4 L1244.1,544.8 L1244.9,540.1 L1245.8,546.8 L1246.6,549.2 L1247.4,549.6 L1248.3,546.1 L1249.1,542.2 L1250.0,544.9 L1250.8,546.2 L1251.6,550.1 L1252.5,542.2 L1253.3,545.6 L1254.2,547.0 L1255.0,546.8 L1255.8,544.4 L1256.7,536.3 L1257.5,542.7 L1258.4,540.1 L1259.2,539.7 L1260.0,533.3 L1260.9,531.1 L1261.7,533.1 L1262.6,526.1 L1263.4,523.4 L1264.2,518.4 L1265.1,520.4 L1265.9,510.3 L1266.7,511.3 L1267.6,512.2 L1268.4,509.3 L1269.3,510.2 L1270.1,508.6 L1270.9,510.7 L1271.8,507.0 L1272.6,507.0 L1273.5,507.4 L1274.3,502.7 L1275.1,511.8 L1276.0,507.0 L1276.8,514.3 L1277.7,517.3 L1278.5,518.8 L1279.3,519.7 L1280.2,520.2 L1281.0,518.9 L1281.9,528.2 L1282.7,528.8 L1283.5,536.0 L1284.4,532.7 L1285.2,537.2 L1286.1,536.2 L1286.9,539.9 L1287.7,538.7 L1288.6,540.3 L1289.4,535.9 L1290.3,540.2 L1291.1,542.3 L1291.9,546.6 L1292.8,544.7 L1293.6,541.5 L1294.5,549.1 L1295.3,546.7 L1296.1,548.8 L1297.0,544.7 L1297.8,539.3 L1298.7,546.9 L1299.5,547.7 L1300.3,552.4 L1301.2,550.4 L1302.0,555.0 L1302.8,556.0 L1303.7,563.1 L1304.5,562.9 L1305.4,572.4 L1306.2,573.9 L1307.0,576.8 L1307.9,577.0 L1308.7,581.8 L1309.6,585.9 L1310.4,584.5 L1311.2,592.3 L1312.1,591.3 L1312.9,596.7 L1313.8,601.2 L1314.6,600.7 L1315.4,595.3 L1316.3,601.7 L1317.1,597.4 L1318.0,596.4 L1318.8,595.8 L1319.6,591.4 L1320.5,593.4 L1321.3,588.4 L1322.2,589.2 L1323.0,583.0 L1323.8,572.1 L1324.7,571.9 L1325.5,568.4 L1326.4,564.7 L1327.2,558.9 L1328.0,556.2 L1328.9,550.5 L1329.7,543.1 L1330.6,542.2 L1331.4,537.4 L1332.2,530.4 L1333.1,530.3 L1333.9,525.4 L1334.8,520.4 L1335.6,520.4 L1336.4,521.1 L1337.3,522.9 L1338.1,522.0 L1338.9,525.5 L1339.8,527.8 L1340.6,524.4 L1341.5,527.0 L1342.3,533.8 L1343.1,539.3 L1344.0,545.0 L1344.8,549.3 L1345.7,552.4 L1346.5,549.6 L1347.3,553.2 L1348.2,550.8 L1349.0,553.8 L1349.9,554.2 L1350.7,550.3 L1351.5,551.8 L1352.4,558.5 L1353.2,549.5 L1354.1,552.3 L1354.9,547.0 L1355.7,539.8 L1356.6,539.1 L1357.4,530.1 L1358.3,526.7 L1359.1,523.3 L1359.9,515.1 L1360.8,520.6 L1361.6,514.2 L1362.5,512.7 L1363.3,513.2 L1364.1,505.9 L1365.0,504.1 L1365.8,502.3 L1366.7,504.0 L1367.5,495.8 L1368.3,497.6 L1369.2,492.9 L1370.0,499.6 L1370.9,502.3 L1371.7,501.4 L1372.5,509.1 L1373.4,509.1 L1374.2,512.7 L1375.0,510.1 L1375.9,515.9 L1376.7,511.5 L1377.6,514.9 L1378.4,515.9 L1379.2,515.8 L1380.1,523.0 L1380.9,523.0 L1381.8,519.0 L1382.6,523.2 L1383.4,521.5 L1384.3,521.8 L1385.1,521.9 L1386.0,516.7 L1386.8,516.0 L1387.6,512.7 L1388.5,507.6 L1389.3,505.9 L1390.2,506.9 L1391.0,502.6 L1391.8,507.4 L1392.7,505.8 L1393.5,498.7 L1394.4,501.5 L1395.2,495.2 L1396.0,499.5 L1396.9,499.4 L1397.7,500.0 L1398.6,498.3 L1399.4,506.9 L1400.2,508.9 L1401.1,510.0 L1401.9,514.9 L1402.8,521.4 L1403.6,527.2 L1404.4,523.6 L1405.3,534.6 L1406.1,529.6 L1407.0,535.8 L1407.8,539.7 L1408.6,547.4 L1409.5,547.0 L1410.3,548.5 L1411.1,551.8 L1412.0,549.6 L1412.8,547.6 L1413.7,552.3 L1414.5,546.3 L1415.3,542.2 L1416.2,539.4 L1417.0,541.3 L1417.9,541.5 L1418.7,534.9 L1419.5,529.3 L1420.4,528.8 L1421.2,518.3 L1422.1,519.1 L1422.9,512.6 L1423.7,515.1 L1424.6,507.3 L1425.4,509.7 L1426.3,506.7 L1427.1,505.3 L1427.9,507.1 L1428.8,505.1 L1429.6,509.2 L1430.5,506.1 L1431.3,502.3 L1432.1,513.6 L1433.0,515.2 L1433.8,515.0 L1434.7,519.6 L1435.5,520.1 L1436.3,518.4 L1437.2,518.3 L1438.0,523.1 L1438.9,527.8 L1439.7,531.6 L1440.5,527.5 L1441.4,529.8 L1442.2,536.0 L1443.1,529.7 L1443.9,528.9 L1444.7,527.1 L1445.6,531.9 L1446.4,528.0 L1447.2,523.7 L1448.1,522.4 L1448.9,516.5 L1449.8,511.7 L1450.6,503.6 L1451.4,499.4 L1452.3,491.9 L1453.1,487.0 L1454.0,477.0 L1454.8,474.8 L1455.6,470.1 L1456.5,465.7 L1457.3,463.8 L1458.2,467.0 L1459.0,463.3 L1459.8,459.6 L1460.7,458.8 L1461.5,461.2 L1462.4,454.5 L1463.2,459.0 L1464.0,462.5 L1464.9,463.1 L1465.7,461.9 L1466.6,462.1 L1467.4,457.6 L1468.2,461.9 L1469.1,465.3 L1469.9,467.0 L1470.8,468.0 L1471.6,461.3 L1472.4,466.6 L1473.3,468.4 L1474.1,465.9 L1475.0,467.0 L1475.8,469.1 L1476.6,467.8 L1477.5,467.0 L1478.3,466.8 L1479.2,466.4 L1480.0,460.8 L1480.8,456.7 L1481.7,455.8 L1482.5,454.5 L1483.3,453.9 L1484.2,448.8 L1485.0,449.0 L1485.9,448.3 L1486.7,452.3 L1487.5,449.7 L1488.4,447.4 L1489.2,450.0 L1490.1,448.1 L1490.9,449.0 L1491.7,452.3 L1492.6,451.3 L1493.4,451.9 L1494.3,455.8 L1495.1,455.5 L1495.9,459.6 L1496.8,456.3 L1497.6,462.9 L1498.5,470.0 L1499.3,467.8 L1500.1,470.9 L1501.0,471.7 L1501.8,472.0 L1502.7,477.7 L1503.5,477.7 L1504.3,482.0 L1505.2,477.0 L1506.0,479.3 L1506.9,478.1 L1507.7,477.2 L1508.5,479.5 L1509.4,473.9 L1510.2,472.0 L1511.1,478.1 L1511.9,468.9 L1512.7,464.9 L1513.6,462.3 L1514.4,454.5 L1515.3,454.1 L1516.1,446.0 L1516.9,444.3 L1517.8,440.3 L1518.6,442.2 L1519.4,437.0 L1520.3,438.2 L1521.1,435.8 L1522.0,427.9 L1522.8,429.3 L1523.6,425.9 L1524.5,424.6 L1525.3,428.9 L1526.2,428.7 L1527.0,424.8 L1527.8,425.5 L1528.7,425.6 L1529.5,426.0 L1530.4,426.1 L1531.2,423.3 L1532.0,428.3 L1532.9,425.7 L1533.7,425.2 L1534.6,429.0 L1535.4,430.9 L1536.2,433.4 L1537.1,432.9 L1537.9,433.2 L1538.8,431.8 L1539.6,434.9 L1540.4,434.3 L1541.3,434.4 L1542.1,432.0 L1543.0,437.7 L1543.8,434.6 L1544.6,433.2 L1545.5,431.2 L1546.3,430.1 L1547.2,432.7 L1548.0,426.6 L1548.8,428.7 L1549.7,430.3 L1550.5,433.0 L1551.4,431.1 L1552.2,435.5 L1553.0,428.4 L1553.9,437.2 L1554.7,434.1 L1555.5,435.3 L1556.4,432.2 L1557.2,435.9 L1558.1,432.6 L1558.9,434.3 L1559.7,429.3 L1560.6,434.1 L1561.4,432.0 L1562.3,425.5 L1563.1,429.2 L1563.9,427.3 L1564.8,428.0 L1565.6,422.6 L1566.5,422.8 L1567.3,424.0 L1568.1,415.9 L1569.0,420.4 L1569.8,414.2 L1570.7,410.3 L1571.5,405.3 L1572.3,402.0 L1573.2,406.3 L1574.0,399.8 L1574.9,396.6 L1575.7,398.7 L1576.5,395.6 L1577.4,392.5 L1578.2,386.4 L1579.1,384.0 L1579.9,390.8 L1580.7,388.0 L1581.6,387.8 L1582.4,394.6 L1583.3,389.6 L1584.1,393.2 L1584.9,399.7 L1585.8,398.1 L1586.6,398.6 L1587.5,400.9 L1588.3,408.6 L1589.1,404.4 L1590.0,411.9 L1590.8,415.7 L1591.6,413.5 L1592.5,416.9 L1593.3,416.1 L1594.2,421.1 L1595.0,419.3 L1595.8,417.6 L1596.7,420.8 L1597.5,420.6 L1598.4,420.0 L1599.2,421.5 L1600.0,420.2 L1600.9,422.6 L1601.7,427.3 L1602.6,421.5 L1603.4,427.8 L1604.2,427.2 L1605.1,426.5 L1605.9,432.6 L1606.8,431.7 L1607.6,430.4 L1608.4,435.0 L1609.3,439.8 L1610.1,435.8 L1611.0,443.4 L1611.8,444.3 L1612.6,449.0 L1613.5,456.5 L1614.3,453.0 L1615.2,456.3 L1616.0,457.1 L1616.8,463.1 L1617.7,466.8 L1618.5,461.8 L1619.4,474.7 L1620.2,476.6 L1621.0,468.1 L1621.9,472.2 L1622.7,478.6 L1623.6,479.2 L1624.4,481.7 L1625.2,477.1 L1626.1,480.2 L1626.9,470.8 L1627.7,471.1 L1628.6,464.5 L1629.4,459.7 L1630.3,450.8 L1631.1,448.4 L1631.9,446.7 L1632.8,435.2 L1633.6,430.8 L1634.5,425.6 L1635.3,416.9 L1636.1,415.7 L1637.0,412.8 L1637.8,407.1 L1638.7,400.3 L1639.5,406.1 L1640.3,400.8 L1641.2,399.3 L1642.0,398.6 L1642.9,397.8 L1643.7,395.2 L1644.5,399.2 L1645.4,401.2 L1646.2,404.9 L1647.1,408.5 L1647.9,405.5 L1648.7,415.5 L1649.6,414.9 L1650.4,418.8 L1651.3,417.4 L1652.1,423.0 L1652.9,422.9 L1653.8,429.9 L1654.6,425.7 L1655.5,430.0 L1656.3,428.8 L1657.1,430.8 L1658.0,430.5 L1658.8,429.9 L1659.6,427.9 L1659.6,514.0 L1658.8,513.7 L1658.0,517.0 L1657.1,513.5 L1656.3,513.2 L1655.5,516.6 L1654.6,516.2 L1653.8,514.9 L1652.9,515.5 L1652.1,510.8 L1651.3,510.0 L1650.4,507.2 L1649.6,498.7 L1648.7,495.0 L1647.9,493.6 L1647.1,489.3 L1646.2,489.2 L1645.4,489.2 L1644.5,485.8 L1643.7,484.8 L1642.9,487.6 L1642.0,482.4 L1641.2,481.7 L1640.3,482.5 L1639.5,486.3 L1638.7,487.9 L1637.8,494.2 L1637.0,497.6 L1636.1,499.2 L1635.3,506.2 L1634.5,511.3 L1633.6,523.5 L1632.8,523.7 L1631.9,532.4 L1631.1,539.2 L1630.3,536.5 L1629.4,542.1 L1628.6,549.1 L1627.7,554.7 L1626.9,556.0 L1626.1,564.9 L1625.2,561.7 L1624.4,562.0 L1623.6,567.1 L1622.7,561.2 L1621.9,560.9 L1621.0,561.4 L1620.2,564.7 L1619.4,557.4 L1618.5,550.8 L1617.7,551.3 L1616.8,546.7 L1616.0,542.3 L1615.2,540.6 L1614.3,540.4 L1613.5,536.3 L1612.6,529.4 L1611.8,529.5 L1611.0,526.7 L1610.1,524.7 L1609.3,523.0 L1608.4,527.0 L1607.6,518.9 L1606.8,521.7 L1605.9,516.5 L1605.1,513.8 L1604.2,513.4 L1603.4,515.5 L1602.6,510.7 L1601.7,505.2 L1600.9,515.4 L1600.0,509.4 L1599.2,510.3 L1598.4,512.4 L1597.5,508.0 L1596.7,507.2 L1595.8,503.9 L1595.0,504.4 L1594.2,504.9 L1593.3,504.5 L1592.5,504.0 L1591.6,497.2 L1590.8,494.7 L1590.0,495.2 L1589.1,494.8 L1588.3,491.3 L1587.5,485.8 L1586.6,485.3 L1585.8,479.4 L1584.9,481.9 L1584.1,480.2 L1583.3,475.7 L1582.4,476.9 L1581.6,474.0 L1580.7,477.5 L1579.9,476.8 L1579.1,475.2 L1578.2,482.8 L1577.4,478.7 L1576.5,478.4 L1575.7,480.0 L1574.9,485.3 L1574.0,489.1 L1573.2,489.0 L1572.3,488.6 L1571.5,493.7 L1570.7,493.0 L1569.8,496.8 L1569.0,498.1 L1568.1,504.4 L1567.3,504.6 L1566.5,511.2 L1565.6,507.9 L1564.8,510.0 L1563.9,504.6 L1563.1,518.1 L1562.3,516.9 L1561.4,517.5 L1560.6,518.4 L1559.7,513.2 L1558.9,518.7 L1558.1,519.4 L1557.2,518.0 L1556.4,514.8 L1555.5,518.5 L1554.7,519.7 L1553.9,519.5 L1553.0,516.9 L1552.2,516.2 L1551.4,517.0 L1550.5,517.7 L1549.7,516.2 L1548.8,517.2 L1548.0,519.5 L1547.2,515.9 L1546.3,517.1 L1545.5,519.3 L1544.6,517.7 L1543.8,514.9 L1543.0,518.5 L1542.1,521.1 L1541.3,516.4 L1540.4,519.6 L1539.6,518.0 L1538.8,518.3 L1537.9,519.5 L1537.1,513.2 L1536.2,518.1 L1535.4,520.0 L1534.6,519.0 L1533.7,516.0 L1532.9,514.0 L1532.0,510.8 L1531.2,508.9 L1530.4,513.8 L1529.5,510.5 L1528.7,507.4 L1527.8,512.6 L1527.0,510.6 L1526.2,511.8 L1525.3,514.6 L1524.5,511.5 L1523.6,518.0 L1522.8,513.0 L1522.0,515.0 L1521.1,518.0 L1520.3,519.4 L1519.4,519.5 L1518.6,525.8 L1517.8,527.3 L1516.9,532.9 L1516.1,532.3 L1515.3,540.4 L1514.4,546.6 L1513.6,544.5 L1512.7,548.8 L1511.9,555.7 L1511.1,557.9 L1510.2,557.3 L1509.4,564.6 L1508.5,563.8 L1507.7,570.7 L1506.9,566.2 L1506.0,568.2 L1505.2,568.1 L1504.3,567.1 L1503.5,564.8 L1502.7,566.6 L1501.8,561.5 L1501.0,557.3 L1500.1,556.6 L1499.3,551.6 L1498.5,548.6 L1497.6,548.8 L1496.8,548.6 L1495.9,537.4 L1495.1,539.7 L1494.3,541.7 L1493.4,535.2 L1492.6,534.5 L1491.7,534.7 L1490.9,531.8 L1490.1,534.2 L1489.2,534.9 L1488.4,531.3 L1487.5,541.5 L1486.7,535.1 L1485.9,534.7 L1485.0,539.9 L1484.2,536.9 L1483.3,539.6 L1482.5,541.7 L1481.7,545.0 L1480.8,544.1 L1480.0,542.7 L1479.2,546.6 L1478.3,547.6 L1477.5,549.0 L1476.6,553.6 L1475.8,557.8 L1475.0,556.0 L1474.1,556.6 L1473.3,550.0 L1472.4,551.4 L1471.6,551.8 L1470.8,549.7 L1469.9,547.5 L1469.1,550.8 L1468.2,547.2 L1467.4,545.8 L1466.6,543.5 L1465.7,550.1 L1464.9,543.1 L1464.0,539.3 L1463.2,544.1 L1462.4,541.6 L1461.5,545.5 L1460.7,543.8 L1459.8,545.8 L1459.0,549.6 L1458.2,547.7 L1457.3,551.7 L1456.5,557.2 L1455.6,559.2 L1454.8,563.1 L1454.0,560.4 L1453.1,571.5 L1452.3,579.8 L1451.4,580.8 L1450.6,587.9 L1449.8,592.7 L1448.9,595.7 L1448.1,603.1 L1447.2,608.9 L1446.4,608.1 L1445.6,607.6 L1444.7,615.2 L1443.9,616.0 L1443.1,616.1 L1442.2,620.4 L1441.4,619.3 L1440.5,616.7 L1439.7,616.1 L1438.9,612.6 L1438.0,607.7 L1437.2,613.3 L1436.3,610.9 L1435.5,606.3 L1434.7,609.8 L1433.8,602.2 L1433.0,598.6 L1432.1,596.1 L1431.3,598.9 L1430.5,594.9 L1429.6,594.7 L1428.8,592.1 L1427.9,591.8 L1427.1,592.1 L1426.3,594.7 L1425.4,598.5 L1424.6,595.6 L1423.7,600.4 L1422.9,600.7 L1422.1,606.1 L1421.2,605.3 L1420.4,614.6 L1419.5,616.4 L1418.7,617.8 L1417.9,623.7 L1417.0,627.3 L1416.2,630.7 L1415.3,631.5 L1414.5,636.0 L1413.7,641.7 L1412.8,636.7 L1412.0,635.6 L1411.1,637.2 L1410.3,630.0 L1409.5,634.3 L1408.6,628.8 L1407.8,627.4 L1407.0,621.8 L1406.1,617.3 L1405.3,617.1 L1404.4,607.4 L1403.6,603.6 L1402.8,602.4 L1401.9,601.2 L1401.1,597.9 L1400.2,593.5 L1399.4,594.5 L1398.6,587.3 L1397.7,587.9 L1396.9,581.2 L1396.0,588.7 L1395.2,588.4 L1394.4,585.1 L1393.5,581.8 L1392.7,584.8 L1391.8,587.3 L1391.0,586.6 L1390.2,586.6 L1389.3,594.8 L1388.5,595.9 L1387.6,601.8 L1386.8,603.0 L1386.0,603.4 L1385.1,605.1 L1384.3,608.2 L1383.4,609.5 L1382.6,603.0 L1381.8,608.5 L1380.9,605.0 L1380.1,604.6 L1379.2,601.1 L1378.4,602.1 L1377.6,603.1 L1376.7,595.0 L1375.9,599.9 L1375.0,591.8 L1374.2,601.1 L1373.4,594.5 L1372.5,594.1 L1371.7,591.7 L1370.9,587.2 L1370.0,584.7 L1369.2,586.4 L1368.3,586.8 L1367.5,593.8 L1366.7,587.5 L1365.8,584.7 L1365.0,590.5 L1364.1,587.9 L1363.3,598.5 L1362.5,600.7 L1361.6,602.0 L1360.8,604.2 L1359.9,604.2 L1359.1,610.6 L1358.3,616.7 L1357.4,616.3 L1356.6,620.3 L1355.7,630.0 L1354.9,635.6 L1354.1,639.9 L1353.2,634.6 L1352.4,640.3 L1351.5,644.6 L1350.7,640.2 L1349.9,634.8 L1349.0,644.1 L1348.2,635.6 L1347.3,635.4 L1346.5,632.9 L1345.7,643.6 L1344.8,635.3 L1344.0,632.0 L1343.1,630.2 L1342.3,628.5 L1341.5,622.1 L1340.6,617.0 L1339.8,613.3 L1338.9,607.1 L1338.1,607.3 L1337.3,604.8 L1336.4,607.7 L1335.6,609.0 L1334.8,608.3 L1333.9,615.1 L1333.1,619.1 L1332.2,614.6 L1331.4,622.5 L1330.6,631.5 L1329.7,634.5 L1328.9,642.2 L1328.0,641.1 L1327.2,648.7 L1326.4,651.6 L1325.5,661.4 L1324.7,661.2 L1323.8,666.1 L1323.0,675.2 L1322.2,673.0 L1321.3,680.9 L1320.5,681.7 L1319.6,684.1 L1318.8,684.7 L1318.0,683.7 L1317.1,684.9 L1316.3,688.4 L1315.4,683.9 L1314.6,683.3 L1313.8,681.6 L1312.9,683.4 L1312.1,682.7 L1311.2,680.0 L1310.4,671.8 L1309.6,671.0 L1308.7,667.8 L1307.9,664.7 L1307.0,664.0 L1306.2,658.0 L1305.4,659.2 L1304.5,652.4 L1303.7,649.8 L1302.8,649.0 L1302.0,648.0 L1301.2,647.0 L1300.3,639.2 L1299.5,645.8 L1298.7,635.5 L1297.8,635.6 L1297.0,637.8 L1296.1,635.3 L1295.3,637.6 L1294.5,632.8 L1293.6,634.4 L1292.8,632.8 L1291.9,631.0 L1291.1,628.2 L1290.3,628.3 L1289.4,628.0 L1288.6,628.6 L1287.7,624.3 L1286.9,627.6 L1286.1,621.2 L1285.2,619.1 L1284.4,624.3 L1283.5,613.7 L1282.7,615.9 L1281.9,613.7 L1281.0,608.6 L1280.2,612.4 L1279.3,605.0 L1278.5,606.9 L1277.7,604.0 L1276.8,599.5 L1276.0,602.4 L1275.1,595.2 L1274.3,593.5 L1273.5,599.8 L1272.6,597.0 L1271.8,597.6 L1270.9,600.0 L1270.1,601.4 L1269.3,595.9 L1268.4,602.3 L1267.6,599.2 L1266.7,602.2 L1265.9,604.9 L1265.1,604.7 L1264.2,607.6 L1263.4,613.0 L1262.6,613.5 L1261.7,616.1 L1260.9,623.6 L1260.0,622.3 L1259.2,626.7 L1258.4,629.0 L1257.5,629.7 L1256.7,634.3 L1255.8,632.5 L1255.0,634.2 L1254.2,631.2 L1253.3,637.3 L1252.5,632.9 L1251.6,638.7 L1250.8,636.2 L1250.0,636.9 L1249.1,634.9 L1248.3,633.4 L1247.4,634.1 L1246.6,636.1 L1245.8,636.8 L1244.9,637.0 L1244.1,637.8 L1243.2,634.4 L1242.4,630.7 L1241.6,634.7 L1240.7,633.3 L1239.9,637.2 L1239.0,636.2 L1238.2,633.4 L1237.4,636.8 L1236.5,638.4 L1235.7,638.3 L1234.8,630.4 L1234.0,632.5 L1233.2,634.2 L1232.3,634.1 L1231.5,634.3 L1230.7,636.0 L1229.8,633.9 L1229.0,632.6 L1228.1,630.7 L1227.3,634.0 L1226.5,632.3 L1225.6,626.1 L1224.8,631.2 L1223.9,627.5 L1223.1,628.0 L1222.3,628.6 L1221.4,629.6 L1220.6,627.4 L1219.7,629.8 L1218.9,625.1 L1218.1,632.2 L1217.2,627.9 L1216.4,630.8 L1215.5,634.0 L1214.7,632.5 L1213.9,642.1 L1213.0,639.8 L1212.2,639.7 L1211.3,648.9 L1210.5,645.4 L1209.7,655.1 L1208.8,655.8 L1208.0,658.3 L1207.1,660.7 L1206.3,665.0 L1205.5,667.0 L1204.6,672.2 L1203.8,675.4 L1202.9,675.6 L1202.1,678.0 L1201.3,677.1 L1200.4,680.6 L1199.6,673.4 L1198.7,678.9 L1197.9,686.2 L1197.1,681.3 L1196.2,677.9 L1195.4,675.6 L1194.6,675.0 L1193.7,674.5 L1192.9,667.8 L1192.0,668.1 L1191.2,663.5 L1190.4,660.3 L1189.5,660.0 L1188.7,650.3 L1187.8,652.6 L1187.0,651.6 L1186.2,647.7 L1185.3,644.0 L1184.5,647.2 L1183.6,645.2 L1182.8,647.2 L1182.0,642.6 L1181.1,648.7 L1180.3,646.5 L1179.4,648.0 L1178.6,650.4 L1177.8,645.8 L1176.9,656.3 L1176.1,654.7 L1175.2,649.4 L1174.4,656.0 L1173.6,655.2 L1172.7,660.3 L1171.9,660.6 L1171.0,663.5 L1170.2,664.5 L1169.4,662.2 L1168.5,666.5 L1167.7,668.5 L1166.8,668.8 L1166.0,662.1 L1165.2,664.2 L1164.3,663.5 L1163.5,666.2 L1162.6,663.7 L1161.8,659.6 L1161.0,658.4 L1160.1,653.5 L1159.3,658.6 L1158.5,657.5 L1157.6,655.1 L1156.8,654.6 L1155.9,655.3 L1155.1,656.3 L1154.3,660.3 L1153.4,658.5 L1152.6,659.4 L1151.7,663.3 L1150.9,664.4 L1150.1,667.9 L1149.2,673.7 L1148.4,677.3 L1147.5,676.7 L1146.7,685.0 L1145.9,688.1 L1145.0,692.2 L1144.2,694.2 L1143.3,702.3 L1142.5,705.2 L1141.7,709.0 L1140.8,712.2 L1140.0,719.6 L1139.1,721.5 L1138.3,721.9 L1137.5,722.7 L1136.6,722.8 L1135.8,728.0 L1134.9,727.5 L1134.1,721.2 L1133.3,725.6 L1132.4,719.4 L1131.6,721.2 L1130.7,712.4 L1129.9,718.1 L1129.1,712.0 L1128.2,714.4 L1127.4,701.4 L1126.5,704.3 L1125.7,701.5 L1124.9,699.2 L1124.0,694.9 L1123.2,699.3 L1122.4,701.3 L1121.5,702.3 L1120.7,703.1 L1119.8,706.0 L1119.0,702.0 L1118.2,703.7 L1117.3,709.7 L1116.5,712.6 L1115.6,713.3 L1114.8,718.7 L1114.0,718.1 L1113.1,726.1 L1112.3,725.1 L1111.4,730.5 L1110.6,733.8 L1109.8,732.5 L1108.9,735.4 L1108.1,741.0 L1107.2,732.9 L1106.4,738.7 L1105.6,741.9 L1104.7,736.4 L1103.9,735.9 L1103.0,738.5 L1102.2,730.5 L1101.4,730.1 L1100.5,735.8 L1099.7,727.6 L1098.8,723.0 L1098.0,721.6 L1097.2,715.1 L1096.3,714.2 L1095.5,711.6 L1094.6,706.1 L1093.8,704.7 L1093.0,698.8 L1092.1,695.1 L1091.3,697.2 L1090.4,694.6 L1089.6,691.0 L1088.8,693.4 L1087.9,692.9 L1087.1,690.5 L1086.3,692.7 L1085.4,692.1 L1084.6,691.7 L1083.7,692.4 L1082.9,697.4 L1082.1,704.0 L1081.2,700.6 L1080.4,701.1 L1079.5,698.7 L1078.7,707.8 L1077.9,702.6 L1077.0,709.8 L1076.2,709.1 L1075.3,712.5 L1074.5,707.9 L1073.7,705.9 L1072.8,706.8 L1072.0,706.8 L1071.1,702.5 L1070.3,704.8 L1069.5,700.6 L1068.6,704.3 L1067.8,698.7 L1066.9,696.1 L1066.1,690.8 L1065.3,690.8 L1064.4,692.6 L1063.6,682.7 L1062.7,687.5 L1061.9,688.1 L1061.1,693.2 L1060.2,693.2 L1059.4,690.1 L1058.5,691.0 L1057.7,697.9 L1056.9,702.5 L1056.0,702.8 L1055.2,703.6 L1054.3,709.0 L1053.5,712.5 L1052.7,714.5 L1051.8,721.9 L1051.0,727.6 L1050.2,728.7 L1049.3,729.1 L1048.5,739.6 L1047.6,741.2 L1046.8,741.8 L1046.0,746.5 L1045.1,742.0 L1044.3,750.8 L1043.4,745.8 L1042.6,748.0 L1041.8,743.0 L1040.9,740.4 L1040.1,744.5 L1039.2,745.4 L1038.4,740.2 L1037.6,738.7 L1036.7,730.0 L1035.9,733.4 L1035.0,722.8 L1034.2,722.4 L1033.4,717.4 L1032.5,711.5 L1031.7,712.6 L1030.8,709.3 L1030.0,709.2 L1029.2,714.2 L1028.3,707.1 L1027.5,706.3 L1026.6,711.4 L1025.8,716.5 L1025.0,719.0 L1024.1,721.6 L1023.3,720.4 L1022.4,728.3 L1021.6,738.3 L1020.8,732.6 L1019.9,742.5 L1019.1,742.9 L1018.2,751.0 L1017.4,758.4 L1016.6,761.7 L1015.7,764.6 L1014.9,775.6 L1014.1,779.8 L1013.2,778.7 L1012.4,783.0 L1011.5,788.7 L1010.7,788.2 L1009.9,791.1 L1009.0,787.7 L1008.2,784.2 L1007.3,783.7 L1006.5,781.1 L1005.7,780.8 L1004.8,780.7 L1004.0,774.0 L1003.1,778.8 L1002.3,771.8 L1001.5,772.4 L1000.6,765.7 L999.8,757.8 L998.9,756.3 L998.1,755.0 L997.3,746.7 L996.4,751.8 L995.6,742.8 L994.7,742.2 L993.9,739.0 L993.1,737.8 L992.2,735.4 L991.4,735.1 L990.5,736.8 L989.7,731.6 L988.9,735.3 L988.0,733.3 L987.2,733.6 L986.3,733.5 L985.5,732.3 L984.7,729.4 L983.8,731.7 L983.0,726.2 L982.1,725.9 L981.3,725.8 L980.5,728.0 L979.6,722.8 L978.8,722.4 L978.0,722.1 L977.1,718.9 L976.3,714.3 L975.4,708.9 L974.6,709.5 L973.8,710.1 L972.9,709.0 L972.1,705.5 L971.2,700.3 L970.4,698.4 L969.6,700.5 L968.7,699.4 L967.9,696.1 L967.0,695.0 L966.2,695.3 L965.4,696.1 L964.5,699.2 L963.7,694.7 L962.8,695.1 L962.0,697.2 L961.2,699.9 L960.3,701.9 L959.5,700.5 L958.6,707.5 L957.8,706.1 L957.0,704.3 L956.1,709.5 L955.3,715.0 L954.4,716.6 L953.6,718.9 L952.8,718.9 L951.9,728.7 L951.1,726.5 L950.2,730.3 L949.4,729.6 L948.6,731.7 L947.7,733.9 L946.9,735.8 L946.0,731.7 L945.2,733.4 L944.4,733.8 L943.5,731.6 L942.7,730.5 L941.9,729.1 L941.0,733.0 L940.2,732.1 L939.3,730.0 L938.5,728.4 L937.7,736.3 L936.8,733.0 L936.0,733.5 L935.1,728.0 L934.3,732.5 L933.5,730.0 L932.6,732.4 L931.8,728.0 L930.9,733.1 L930.1,732.2 L929.3,732.8 L928.4,731.3 L927.6,731.7 L926.7,727.3 L925.9,735.1 L925.1,731.0 L924.2,730.1 L923.4,731.2 L922.5,725.4 L921.7,727.7 L920.9,726.2 L920.0,728.6 L919.2,725.6 L918.3,725.6 L917.5,719.2 L916.7,719.9 L915.8,719.0 L915.0,724.3 L914.1,721.7 L913.3,724.9 L912.5,722.0 L911.6,723.9 L910.8,723.0 L909.9,718.0 L909.1,730.1 L908.3,731.2 L907.4,730.5 L906.6,730.3 L905.8,735.3 L904.9,736.6 L904.1,740.3 L903.2,746.5 L902.4,744.9 L901.6,749.6 L900.7,749.6 L899.9,762.5 L899.0,756.6 L898.2,763.2 L897.4,763.0 L896.5,770.5 L895.7,775.7 L894.8,769.1 L894.0,771.9 L893.2,774.5 L892.3,767.4 L891.5,774.1 L890.6,771.2 L889.8,764.4 L889.0,775.3 L888.1,766.7 L887.3,765.3 L886.4,763.1 L885.6,751.5 L884.8,755.4 L883.9,753.8 L883.1,746.5 L882.2,742.0 L881.4,741.0 L880.6,738.6 L879.7,734.1 L878.9,734.9 L878.0,737.7 L877.2,732.0 L876.4,737.0 L875.5,732.2 L874.7,734.3 L873.8,734.1 L873.0,733.5 L872.2,738.7 L871.3,736.7 L870.5,733.8 L869.7,735.8 L868.8,735.4 L868.0,738.2 L867.1,742.7 L866.3,748.1 L865.5,748.7 L864.6,749.8 L863.8,747.1 L862.9,755.7 L862.1,756.3 L861.3,756.8 L860.4,757.0 L859.6,756.0 L858.7,753.5 L857.9,751.9 L857.1,752.2 L856.2,749.5 L855.4,749.7 L854.5,743.0 L853.7,742.0 L852.9,738.7 L852.0,743.3 L851.2,734.7 L850.3,738.9 L849.5,739.3 L848.7,740.6 L847.8,739.2 L847.0,739.5 L846.1,740.1 L845.3,745.5 L844.5,749.5 L843.6,747.8 L842.8,751.5 L841.9,757.1 L841.1,760.3 L840.3,770.4 L839.4,772.0 L838.6,776.9 L837.8,786.1 L836.9,787.1 L836.1,795.1 L835.2,796.8 L834.4,798.0 L833.6,805.7 L832.7,805.8 L831.9,808.5 L831.0,803.9 L830.2,810.1 L829.4,805.9 L828.5,808.6 L827.7,811.9 L826.8,807.3 L826.0,798.7 L825.2,798.3 L824.3,793.4 L823.5,792.6 L822.6,791.0 L821.8,791.1 L821.0,784.6 L820.1,782.5 L819.3,784.4 L818.4,781.9 L817.6,780.9 L816.8,780.2 L815.9,777.6 L815.1,779.3 L814.2,774.3 L813.4,783.5 L812.6,780.2 L811.7,784.1 L810.9,788.4 L810.0,786.7 L809.2,792.0 L808.4,802.2 L807.5,799.8 L806.7,802.9 L805.8,804.4 L805.0,807.2 L804.2,810.3 L803.3,811.0 L802.5,811.1 L801.7,816.4 L800.8,813.3 L800.0,812.4 L799.1,815.6 L798.3,811.5 L797.5,810.4 L796.6,804.6 L795.8,804.6 L794.9,803.3 L794.1,801.1 L793.3,800.7 L792.4,795.3 L791.6,797.1 L790.7,786.2 L789.9,783.6 L789.1,781.3 L788.2,772.7 L787.4,769.2 L786.5,771.2 L785.7,767.5 L784.9,765.1 L784.0,767.5 L783.2,766.2 L782.3,764.0 L781.5,767.6 L780.7,770.2 L779.8,766.4 L779.0,768.5 L778.1,761.1 L777.3,767.0 L776.5,765.0 L775.6,773.8 L774.8,770.2 L773.9,777.3 L773.1,783.5 L772.3,781.0 L771.4,781.7 L770.6,778.1 L769.7,780.2 L768.9,782.7 L768.1,778.9 L767.2,782.4 L766.4,779.9 L765.6,775.5 L764.7,781.2 L763.9,771.5 L763.0,771.4 L762.2,768.3 L761.4,763.2 L760.5,759.7 L759.7,760.5 L758.8,759.1 L758.0,758.7 L757.2,757.9 L756.3,757.2 L755.5,757.7 L754.6,760.3 L753.8,759.0 L753.0,761.5 L752.1,760.4 L751.3,765.5 L750.4,764.2 L749.6,765.3 L748.8,766.8 L747.9,779.2 L747.1,779.1 L746.2,787.1 L745.4,785.4 L744.6,795.7 L743.7,798.8 L742.9,801.5 L742.0,802.8 L741.2,806.9 L740.4,806.1 L739.5,813.3 L738.7,808.7 L737.8,811.2 L737.0,809.0 L736.2,806.5 L735.3,806.5 L734.5,806.4 L733.6,803.0 L732.8,803.2 L732.0,797.8 L731.1,794.4 L730.3,789.9 L729.5,787.3 L728.6,785.1 L727.8,778.9 L726.9,777.1 L726.1,774.5 L725.3,773.2 L724.4,770.3 L723.6,769.1 L722.7,771.1 L721.9,772.5 L721.1,769.1 L720.2,778.5 L719.4,774.0 L718.5,782.9 L717.7,784.2 L716.9,786.3 L716.0,796.6 L715.2,799.8 L714.3,797.6 L713.5,810.3 L712.7,811.2 L711.8,814.3 L711.0,816.2 L710.1,822.9 L709.3,824.6 L708.5,829.6 L707.6,833.9 L706.8,836.2 L705.9,843.3 L705.1,839.5 L704.3,843.3 L703.4,843.8 L702.6,843.1 L701.7,846.2 L700.9,837.4 L700.1,837.2 L699.2,835.3 L698.4,833.5 L697.5,827.4 L696.7,821.4 L695.9,820.7 L695.0,819.5 L694.2,814.4 L693.4,807.3 L692.5,805.1 L691.7,802.8 L690.8,803.0 L690.0,797.6 L689.2,799.5 L688.3,796.1 L687.5,796.8 L686.6,799.0 L685.8,794.0 L685.0,794.1 L684.1,794.7 L683.3,784.3 L682.4,786.7 L681.6,792.7 L680.8,785.1 L679.9,786.7 L679.1,787.0 L678.2,785.2 L677.4,782.1 L676.6,777.0 L675.7,779.7 L674.9,783.0 L674.0,775.2 L673.2,773.9 L672.4,776.3 L671.5,768.4 L670.7,771.2 L669.8,766.7 L669.0,764.0 L668.2,761.4 L667.3,762.1 L666.5,755.2 L665.6,757.0 L664.8,751.8 L664.0,748.3 L663.1,750.0 L662.3,746.9 L661.4,744.8 L660.6,744.4 L659.8,743.0 L658.9,743.4 L658.1,736.1 L657.3,741.9 L656.4,741.2 L655.6,742.2 L654.7,741.2 L653.9,739.3 L653.1,746.0 L652.2,747.3 L651.4,750.2 L650.5,753.8 L649.7,754.3 L648.9,759.0 L648.0,756.6 L647.2,759.7 L646.3,765.8 L645.5,767.3 L644.7,773.0 L643.8,775.0 L643.0,777.7 L642.1,775.9 L641.3,776.7 L640.5,777.5 L639.6,779.1 L638.8,779.9 L637.9,782.5 L637.1,774.3 L636.3,780.4 L635.4,775.8 L634.6,780.2 L633.7,772.8 L632.9,777.5 L632.1,773.1 L631.2,777.5 L630.4,775.4 L629.5,774.1 L628.7,774.6 L627.9,774.4 L627.0,775.0 L626.2,771.7 L625.3,770.4 L624.5,771.6 L623.7,770.0 L622.8,774.7 L622.0,776.9 L621.2,774.2 L620.3,770.9 L619.5,771.6 L618.6,773.5 L617.8,775.2 L617.0,769.1 L616.1,769.8 L615.3,769.6 L614.4,769.0 L613.6,769.6 L612.8,766.8 L611.9,765.0 L611.1,761.8 L610.2,764.4 L609.4,760.3 L608.6,760.2 L607.7,757.1 L606.9,762.7 L606.0,766.0 L605.2,759.7 L604.4,759.9 L603.5,764.3 L602.7,762.1 L601.8,762.8 L601.0,768.8 L600.2,766.1 L599.3,774.2 L598.5,778.9 L597.6,785.0 L596.8,787.7 L596.0,788.0 L595.1,786.2 L594.3,796.7 L593.4,798.4 L592.6,796.7 L591.8,801.0 L590.9,807.4 L590.1,805.0 L589.2,806.2 L588.4,810.9 L587.6,814.8 L586.7,810.1 L585.9,812.1 L585.1,810.8 L584.2,807.6 L583.4,809.7 L582.5,806.0 L581.7,803.0 L580.9,800.6 L580.0,800.4 L579.2,799.7 L578.3,794.5 L577.5,791.3 L576.7,785.8 L575.8,785.8 L575.0,787.4 L574.1,781.0 L573.3,783.0 L572.5,778.5 L571.6,772.1 L570.8,774.8 L569.9,771.1 L569.1,772.7 L568.3,776.9 L567.4,769.7 L566.6,770.0 L565.7,772.6 L564.9,770.3 L564.1,766.4 L563.2,773.0 L562.4,775.7 L561.5,781.3 L560.7,779.0 L559.9,780.4 L559.0,783.4 L558.2,790.6 L557.3,784.3 L556.5,786.1 L555.7,791.4 L554.8,790.3 L554.0,796.6 L553.1,789.8 L552.3,792.4 L551.5,793.6 L550.6,784.5 L549.8,785.6 L549.0,781.9 L548.1,781.9 L547.3,780.8 L546.4,776.3 L545.6,777.8 L544.8,774.2 L543.9,774.6 L543.1,781.7 L542.2,779.6 L541.4,778.6 L540.6,785.4 L539.7,783.5 L538.9,785.9 L538.0,788.5 L537.2,794.9 L536.4,798.5 L535.5,798.6 L534.7,812.3 L533.8,806.1 L533.0,810.9 L532.2,818.1 L531.3,819.3 L530.5,824.6 L529.6,823.4 L528.8,826.4 L528.0,831.4 L527.1,837.3 L526.3,838.6 L525.4,834.3 L524.6,842.1 L523.8,838.0 L522.9,839.9 L522.1,841.2 L521.2,843.2 L520.4,836.3 L519.6,837.1 L518.7,835.3 L517.9,836.5 L517.0,833.4 L516.2,829.0 L515.4,830.1 L514.5,826.0 L513.7,820.5 L512.9,818.5 L512.0,816.9 L511.2,811.4 L510.3,809.2 L509.5,812.9 L508.7,813.7 L507.8,814.1 L507.0,816.9 L506.1,811.3 L505.3,811.6 L504.5,817.6 L503.6,815.9 L502.8,817.7 L501.9,818.9 L501.1,825.3 L500.3,833.5 L499.4,835.6 L498.6,842.8 L497.7,847.8 L496.9,846.8 L496.1,850.6 L495.2,848.6 L494.4,846.2 L493.5,845.8 L492.7,856.6 L491.9,853.6 L491.0,847.6 L490.2,846.9 L489.3,840.3 L488.5,839.3 L487.7,834.5 L486.8,837.3 L486.0,830.3 L485.1,825.3 L484.3,823.7 L483.5,812.9 L482.6,820.8 L481.8,813.0 L480.9,810.5 L480.1,807.5 L479.3,807.4 L478.4,795.3 L477.6,801.8 L476.8,798.2 L475.9,802.5 L475.1,794.4 L474.2,800.7 L473.4,802.5 L472.6,799.2 L471.7,799.5 L470.9,796.8 L470.0,805.8 L469.2,801.1 L468.4,804.3 L467.5,802.6 L466.7,811.0 L465.8,809.5 L465.0,810.9 L464.2,811.9 L463.3,816.2 L462.5,817.6 L461.6,813.4 L460.8,817.7 L460.0,812.5 L459.1,817.5 L458.3,809.2 L457.4,804.4 L456.6,804.3 L455.8,804.7 L454.9,803.7 L454.1,797.2 L453.2,789.6 L452.4,796.0 L451.6,795.2 L450.7,792.4 L449.9,792.8 L449.0,791.2 L448.2,787.6 L447.4,789.6 L446.5,789.3 L445.7,793.2 L444.9,791.4 L444.0,796.6 L443.2,796.2 L442.3,807.4 L441.5,805.4 L440.7,809.2 L439.8,812.2 L439.0,818.6 L438.1,824.5 L437.3,826.6 L436.5,830.1 L435.6,832.4 L434.8,836.9 L433.9,841.6 L433.1,841.6 L432.3,844.5 L431.4,843.9 L430.6,846.9 L429.7,839.8 L428.9,844.7 L428.1,838.8 L427.2,840.2 L426.4,837.6 L425.5,827.4 L424.7,827.0 L423.9,826.1 L423.0,819.5 L422.2,819.8 L421.3,811.8 L420.5,811.0 L419.7,808.8 L418.8,812.0 L418.0,805.1 L417.1,807.3 L416.3,802.9 L415.5,807.3 L414.6,804.3 L413.8,806.9 L412.9,805.0 L412.1,813.3 L411.3,811.4 L410.4,816.8 L409.6,822.8 L408.8,829.0 L407.9,837.5 L407.1,842.1 L406.2,843.4 L405.4,852.6 L404.6,851.7 L403.7,860.9 L402.9,862.0 L402.0,864.6 L401.2,869.1 L400.4,870.7 L399.5,871.2 L398.7,873.8 L397.8,881.7 L397.0,877.3 L396.2,875.6 L395.3,881.9 L394.5,878.1 L393.6,871.4 L392.8,872.7 L392.0,868.6 L391.1,870.9 L390.3,864.2 L389.4,856.9 L388.6,850.2 L387.8,849.1 L386.9,848.1 L386.1,845.7 L385.2,838.3 L384.4,836.1 L383.6,834.4 L382.7,832.2 L381.9,828.5 L381.0,829.2 L380.2,824.2 L379.4,824.8 L378.5,823.9 L377.7,821.6 L376.8,826.1 L376.0,817.8 L375.2,819.0 L374.3,815.2 L373.5,818.8 L372.7,818.2 L371.8,817.8 L371.0,813.0 L370.1,810.6 L369.3,813.5 L368.5,812.7 L367.6,808.0 L366.8,808.6 L365.9,802.5 L365.1,800.6 L364.3,801.3 L363.4,798.5 L362.6,799.9 L361.7,792.5 L360.9,792.1 L360.1,784.7 L359.2,783.4 L358.4,781.4 L357.5,782.9 L356.7,781.3 L355.9,774.8 L355.0,775.9 L354.2,769.4 L353.3,776.1 L352.5,771.1 L351.7,775.1 L350.8,778.8 L350.0,773.1 L349.1,773.6 L348.3,779.4 L347.5,778.6 L346.6,785.6 L345.8,782.7 L344.9,789.3 L344.1,789.7 L343.3,795.7 L342.4,795.1 L341.6,798.4 L340.7,802.5 L339.9,808.2 L339.1,807.7 L338.2,808.1 L337.4,805.2 L336.6,808.5 L335.7,808.9 L334.9,819.0 L334.0,809.6 L333.2,810.6 L332.4,813.9 L331.5,810.1 L330.7,809.4 L329.8,814.8 L329.0,809.3 L328.2,811.3 L327.3,811.4 L326.5,812.4 L325.6,815.9 L324.8,809.3 L324.0,808.3 L323.1,806.8 L322.3,808.3 L321.4,807.4 L320.6,810.0 L319.8,806.0 L318.9,809.5 L318.1,807.4 L317.2,806.5 L316.4,805.0 L315.6,807.8 L314.7,806.2 L313.9,801.2 L313.0,810.1 L312.2,807.7 L311.4,803.9 L310.5,802.5 L309.7,800.6 L308.8,802.2 L308.0,797.5 L307.2,803.6 L306.3,798.9 L305.5,800.3 L304.6,799.3 L303.8,795.7 L303.0,793.3 L302.1,794.4 L301.3,798.8 L300.5,794.1 L299.6,795.3 L298.8,793.4 L297.9,798.8 L297.1,796.6 L296.3,792.1 L295.4,792.4 L294.6,800.9 L293.7,799.7 L292.9,805.6 L292.1,810.4 L291.2,807.2 L290.4,813.2 L289.5,813.1 L288.7,818.9 L287.9,817.5 L287.0,826.5 L286.2,827.0 L285.3,830.2 L284.5,835.1 L283.7,837.5 L282.8,841.2 L282.0,842.7 L281.1,842.1 L280.3,845.8 L279.5,839.5 L278.6,841.5 L277.8,843.4 L276.9,839.1 L276.1,841.8 L275.3,835.3 L274.4,833.5 L273.6,834.7 L272.7,826.7 L271.9,825.5 L271.1,824.9 L270.2,815.0 L269.4,817.1 L268.5,812.8 L267.7,816.5 L266.9,806.0 L266.0,806.9 L265.2,799.0 L264.4,802.6 L263.5,800.4 L262.7,798.6 L261.8,800.4 L261.0,800.0 L260.2,805.8 L259.3,802.8 L258.5,799.6 L257.6,804.8 L256.8,806.1 L256.0,807.6 L255.1,809.9 L254.3,807.2 L253.4,809.4 L252.6,808.0 L251.8,814.7 L250.9,819.8 L250.1,819.2 L249.2,818.5 L248.4,816.7Z" fill="#add8e6" fill-opacity="0.2"/>
<path d="M248.4,816.7 L249.2,818.5 L250.1,819.2 L250.9,819.8 L251.8,814.7 L252.6,808.0 L253.4,809.4 L254.3,807.2 L255.1,809.9 L256.0,807.6 L256.8,806.1 L257.6,804.8 L258.5,799.6 L259.3,802.8 L260.2,805.8 L261.0,800.0 L261.8,800.4 L262.7,798.6 L263.5,800.4 L264.4,802.6 L265.2,799.0 L266.0,806.9 L266.9,806.0 L267.7,816.5 L268.5,812.8 L269.4,817.1 L270.2,815.0 L271.1,824.9 L271.9,825.5 L272.7,826.7 L273.6,834.7 L274.4,833.5 L275.3,835.3 L276.1,841.8 L276.9,839.1 L277.8,843.4 L278.6,841.5 L279.5,839.5 L280.3,845.8 L281.1,842.1 L282.0,842.7 L282.8,841.2 L283.7,837.5 L284.5,835.1 L285.3,830.2 L286.2,827.0 L287.0,826.5 L287.9,817.5 L288.7,818.9 L289.5,813.1 L290.4,813.2 L291.2,807.2 L292.1,810.4 L292.9,805.6 L293.7,799.7 L294.6,800.9 L295.4,792.4 L296.3,792.1 L297.1,796.6 L297.9,798.8 L298.8,793.4 L299.6,795.3 L300.5,794.1 L301.3,798.8 L302.1,794.4 L303.0,793.3 L303.8,795.7 L304.6,799.3 L305.5,800.3 L306.3,798.9 L307.2,803.6 L308.0,797.5 L308.8,802.2 L309.7,800.6 L310.5,802.5 L311.4,803.9 L312.2,807.7 L313.0,810.1 L313.9,801.2 L314.7,806.2 L315.6,807.8 L316.4,805.0 L317.2,806.5 L318.1,807.4 L318.9,809.5 L319.8,806.0 L320.6,810.0 L321.4,807.4 L322.3,808.3 L323.1,806.8 L324.0,808.3 L324.8,809.3 L325.6,815.9 L326.5,812.4 L327.3,811.4 L328.2,811.3 L329.0,809.3 L329.8,814.8 L330.7,809.4 L331.5,810.1 L332.4,813.9 L333.2,810.6 L334.0,809.6 L334.9,819.0 L335.7,808.9 L336.6,808.5 L337.4,805.2 L338.2,808.1 L339.1,807.7 L339.9,808.2 L340.7,802.5 L341.6,798.4 L342.4,795.1 L343.3,795.7 L344.1,789.7 L344.9,789.3 L345.8,782.7 L346.6,785.6 L347.5,778.6 L348.3,779.4 L349.1,773.6 L350.0,773.1 L350.8,778.8 L351.7,775.1 L352.5,771.1 L353.3,776.1 L354.2,769.4 L355.0,775.9 L355.9,774.8 L356.7,781.3 L357.5,782.9 L358.4,781.4 L359.2,783.4 L360.1,784.7 L360.9,792.1 L361.7,792.5 L362.6,799.9 L363.4,798.5 L364.3,801.3 L365.1,800.6 L365.9,802.5 L366.8,808.6 L367.6,808.0 L368.5,812.7 L369.3,813.5 L370.1,810.6 L371.0,813.0 L371.8,817.8 L372.7,818.2 L373.5,818.8 L374.3,815.2 L375.2,819.0 L376.0,817.8 L376.8,826.1 L377.7,821.6 L378.5,823.9 L379.4,824.8 L380.2,824.2 L381.0,829.2 L381.9,828.5 L382.7,832.2 L383.6,834.4 L384.4,836.1 L385.2,838.3 L386.1,845.7 L386.9,848.1 L387.8,849.1 L388.6,850.2 L389.4,856.9 L390.3,864.2 L391.1,870.9 L392.0,868.6 L392.8,872.7 L393.6,871.4 L394.5,878.1 L395.3,881.9 L396.2,875.6 L397.0,877.3 L397.8,881.7 L398.7,873.8 L399.5,871.2 L400.4,870.7 L401.2,869.1 L402.0,864.6 L402.9,862.0 L403.7,860.9 L404.6,851.7 L405.4,852.6 L406.2,843.4 L407.1,842.1 L407.9,837.5 L408.8,829.0 L409.6,822.8 L410.4,816.8 L411.3,811.4 L412.1,813.3 L412.9,805.0 L413.8,806.9 L414.6,804.3 L415.5,807.3 L416.3,802.9 L417.1,807.3 L418.0,805.1 L418.8,812.0 L419.7,808.8 L420.5,811.0 L421.3,811.8 L422.2,819.8 L423.0,819.5 L423.9,826.1 L424.7,827.0 L425.5,827.4 L426.4,837.6 L427.2,840.2 L428.1,838.8 L428.9,844.7 L429.7,839.8 L430.6,846.9 L431.4,843.9 L432.3,844.5 L433.1,841.6 L433.9,841.6 L434.8,836.9 L435.6,832.4 L436.5,830.1 L437.3,826.6 L438.1,824.5 L439.0,818.6 L439.8,812.2 L440.7,809.2 L441.5,805.4 L442.3,807.4 L443.2,796.2 L444.0,796.6 L444.9,791.4 L445.7,793.2 L446.5,789.3 L447.4,789.6 L448.2,787.6 L449.0,791.2 L449.9,792.8 L450.7,792.4 L451.6,795.2 L452.4,796.0 L453.2,789.6 L454.1,797.2 L454.9,803.7 L455.8,804.7 L456.6,804.3 L457.4,804.4 L458.3,809.2 L459.1,817.5 L460.0,812.5 L460.8,817.7 L461.6,813.4 L462.5,817.6 L463.3,816.2 L464.2,811.9 L465.0,810.9 L465.8,809.5 L466.7,811.0 L467.5,802.6 L468.4,804.3 L469.2,801.1 L470.0,805.8 L470.9,796.8 L471.7,799.5 L472.6,799.2 L473.4,802.5 L474.2,800.7 L475.1,794.4 L475.9,802.5 L476.8,798.2 L477.6,801.8 L478.4,795.3 L479.3,807.4 L480.1,807.5 L480.9,810.5 L481.8,813.0 L482.6,820.8 L483.5,812.9 L484.3,823.7 L485.1,825.3 L486.0,830.3 L486.8,837.3 L487.7,834.5 L488.5,839.3 L489.3,840.3 L490.2,846.9 L491.0,847.6 L491.9,853.6 L492.7,856.6 L493.5,845.8 L494.4,846.2 L495.2,848.6 L496.1,850.6 L496.9,846.8 L497.7,847.8 L498.6,842.8 L499.4,835.6 L500.3,833.5 L501.1,825.3 L501.9,818.9 L502.8,817.7 L503.6,815.9 L504.5,817.6 L505.3,811.6 L506.1,811.3 L507.0,816.9 L507.8,814.1 L508.7,813.7 L509.5,812.9 L510.3,809.2 L511.2,811.4 L512.0,816.9 L512.9,818.5 L513.7,820.5 L514.5,826.0 L515.4,830.1 L516.2,829.0 L517.0,833.4 L517.9,836.5 L518.7,835.3 L519.6,837.1 L520.4,836.3 L521.2,843.2 L522.1,841.2 L522.9,839.9 L523.8,838.0 L524.6,842.1 L525.4,834.3 L526.3,838.6 L527.1,837.3 L528.0,831.4 L528.8,826.4 L529.6,823.4 L530.5,824.6 L531.3,819.3 L532.2,818.1 L533.0,810.9 L533.8,806.1 L534.7,812.3 L535.5,798.6 L536.4,798.5 L537.2,794.9 L538.0,788.5 L538.9,785.9 L539.7,783.5 L540.6,785.4 L541.4,778.6 L542.2,779.6 L543.1,781.7 L543.9,774.6 L544.8,774.2 L545.6,777.8 L546.4,776.3 L547.3,780.8 L548.1,781.9 L549.0,781.9 L549.8,785.6 L550.6,784.5 L551.5,793.6 L552.3,792.4 L553.1,789.8 L554.0,796.6 L554.8,790.3 L555.7,791.4 L556.5,786.1 L557.3,784.3 L558.2,790.6 L559.0,783.4 L559.9,780.4 L560.7,779.0 L561.5,781.3 L562.4,775.7 L563.2,773.0 L564.1,766.4 L564.9,770.3 L565.7,772.6 L566.6,770.0 L567.4,769.7 L568.3,776.9 L569.1,772.7 L569.9,771.1 L570.8,774.8 L571.6,772.1 L572.5,778.5 L573.3,783.0 L574.1,781.0 L575.0,787.4 L575.8,785.8 L576.7,785.8 L577.5,791.3 L578.3,794.5 L579.2,799.7 L580.0,800.4 L580.9,800.6 L581.7,803.0 L582.5,806.0 L583.4,809.7 L584.2,807.6 L585.1,810.8 L585.9,812.1 L586.7,810.1 L587.6,814.8 L588.4,810.9 L589.2,806.2 L590.1,805.0 L590.9,807.4 L591.8,801.0 L592.6,796.7 L593.4,798.4 L594.3,796.7 L595.1,786.2 L596.0,788.0 L596.8,787.7 L597.6,785.0 L598.5,778.9 L599.3,774.2 L600.2,766.1 L601.0,768.8 L601.8,762.8 L602.7,762.1 L603.5,764.3 L604.4,759.9 L605.2,759.7 L606.0,766.0 L606.9,762.7 L607.7,757.1 L608.6,760.2 L609.4,760.3 L610.2,764.4 L611.1,761.8 L611.9,765.0 L612.8,766.8 L613.6,769.6 L614.4,769.0 L615.3,769.6 L616.1,769.8 L617.0,769.1 L617.8,775.2 L618.6,773.5 L619.5,771.6 L620.3,770.9 L621.2,774.2 L622.0,776.9 L622.8,774.7 L623.7,770.0 L624.5,771.6 L625.3,770.4 L626.2,771.7 L627.0,775.0 L627.9,774.4 L628.7,774.6 L629.5,774.1 L630.4,775.4 L631.2,777.5 L632.1,773.1 L632.9,777.5 L633.7,772.8 L634.6,780.2 L635.4,775.8 L636.3,780.4 L637.1,774.3 L637.9,782.5 L638.8,779.9 L639.6,779.1 L640.5,777.5 L641.3,776.7 L642.1,775.9 L643.0,777.7 L643.8,775.0 L644.7,773.0 L645.5,767.3 L646.3,765.8 L647.2,759.7 L648.0,756.6 L648.9,759.0 L649.7,754.3 L650.5,753.8 L651.4,750.2 L652.2,747.3 L653.1,746.0 L653.9,739.3 L654.7,741.2 L655.6,742.2 L656.4,741.2 L657.3,741.9 L658.1,736.1 L658.9,743.4 L659.8,743.0 L660.6,744.4 L661.4,744.8 L662.3,746.9 L663.1,750.0 L664.0,748.3 L664.8,751.8 L665.6,757.0 L666.5,755.2 L667.3,762.1 L668.2,761.4 L669.0,764.0 L669.8,766.7 L670.7,771.2 L671.5,768.4 L672.4,776.3 L673.2,773.9 L674.0,775.2 L674.9,783.0 L675.7,779.7 L676.6,777.0 L677.4,782.1 L678.2,785.2 L679.1,787.0 L679.9,786.7 L680.8,785.1 L681.6,792.7 L682.4,786.7 L683.3,784.3 L684.1,794.7 L685.0,794.1 L685.8,794.0 L686.6,799.0 L687.5,796.8 L688.3,796.1 L689.2,799.5 L690.0,797.6 L690.8,803.0 L691.7,802.8 L692.5,805.1 L693.4,807.3 L694.2,814.4 L695.0,819.5 L695.9,820.7 L696.7,821.4 L697.5,827.4 L698.4,833.5 L699.2,835.3 L700.1,837.2 L700.9,837.4 L701.7,846.2 L702.6,843.1 L703.4,843.8 L704.3,843.3 L705.1,839.5 L705.9,843.3 L706.8,836.2 L707.6,833.9 L708.5,829.6 L709.3,824.6 L710.1,822.9 L711.0,816.2 L711.8,814.3 L712.7,811.2 L713.5,810.3 L714.3,797.6 L715.2,799.8 L716.0,796.6 L716.9,786.3 L717.7,784.2 L718.5,782.9 L719.4,774.0 L720.2,778.5 L721.1,769.1 L721.9,772.5 L722.7,771.1 L723.6,769.1 L724.4,770.3 L725.3,773.2 L726.1,774.5 L726.9,777.1 L727.8,778.9 L728.6,785.1 L729.5,787.3 L730.3,789.9 L731.1,794.4 L732.0,797.8 L732.8,803.2 L733.6,803.0 L734.5,806.4 L735.3,806.5 L736.2,806.5 L737.0,809.0 L737.8,811.2 L738.7,808.7 L739.5,813.3 L740.4,806.1 L741.2,806.9 L742.0,802.8 L742.9,801.5 L743.7,798.8 L744.6,795.7 L745.4,785.4 L746.2,787.1 L747.1,779.1 L747.9,779.2 L748.8,766.8 L749.6,765.3 L750.4,764.2 L751.3,765.5 L752.1,760.4 L753.0,761.5 L753.8,759.0 L754.6,760.3 L755.5,757.7 L756.3,757.2 L757.2,757.9 L758.0,758.7 L758.8,759.1 L759.7,760.5 L760.5,759.7 L761.4,763.2 L762.2,768.3 L763.0,771.4 L763.9,771.5 L764.7,781.2 L765.6,775.5 L766.4,779.9 L767.2,782.4 L768.1,778.9 L768.9,782.7 L769.7,780.2 L770.6,778.1 L771.4,781.7 L772.3,781.0 L773.1,783.5 L773.9,777.3 L774.8,770.2 L775.6,773.8 L776.5,765.0 L777.3,767.0 L778.1,761.1 L779.0,768.5 L779.8,766.4 L780.7,770.2 L781.5,767.6 L782.3,764.0 L783.2,766.2 L784.0,767.5 L784.9,765.1 L785.7,767.5 L786.5,771.2 L787.4,769.2 L788.2,772.7 L789.1,781.3 L789.9,783.6 L790.7,786.2 L791.6,797.1 L792.4,795.3 L793.3,800.7 L794.1,801.1 L794.9,803.3 L795.8,804.6 L796.6,804.6 L797.5,810.4 L798.3,811.5 L799.1,815.6 L800.0,812.4 L800.8,813.3 L801.7,816.4 L802.5,811.1 L803.3,811.0 L804.2,810.3 L805.0,807.2 L805.8,804.4 L806.7,802.9 L807.5,799.8 L808.4,802.2 L809.2,792.0 L810.0,786.7 L810.9,788.4 L811.7,784.1 L812.6,780.2 L813.4,783.5 L814.2,774.3 L815.1,779.3 L815.9,777.6 L816.8,780.2 L817.6,780.9 L818.4,781.9 L819.3,784.4 L820.1,782.5 L821.0,784.6 L821.8,791.1 L822.6,791.0 L823.5,792.6 L824.3,793.4 L825.2,798.3 L826.0,798.7 L826.8,807.3 L827.7,811.9 L828.5,808.6 L829.4,805.9 L830.2,810.1 L831.0,803.9 L831.9,808.5 L832.7,805.8 L833.6,805.7 L834.4,798.0 L835.2,796.8 L836.1,795.1 L836.9,787.1 L837.8,786.1 L838.6,776.9 L839.4,772.0 L840.3,770.4 L841.1,760.3 L841.9,757.1 L842.8,751.5 L843.6,747.8 L844.5,749.5 L845.3,745.5 L846.1,740.1 L847.0,739.5 L847.8,739.2 L848.7,740.6 L849.5,739.3 L850.3,738.9 L851.2,734.7 L852.0,743.3 L852.9,738.7 L853.7,742.0 L854.5,743.0 L855.4,749.7 L856.2,749.5 L857.1,752.2 L857.9,751.9 L858.7,753.5 L859.6,756.0 L860.4,757.0 L861.3,756.8 L862.1,756.3 L862.9,755.7 L863.8,747.1 L864.6,749.8 L865.5,748.7 L866.3,748.1 L867.1,742.7 L868.0,738.2 L868.8,735.4 L869.7,735.8 L870.5,733.8 L871.3,736.7 L872.2,738.7 L873.0,733.5 L873.8,734.1 L874.7,734.3 L875.5,732.2 L876.4,737.0 L877.2,732.0 L878.0,737.7 L878.9,734.9 L879.7,734.1 L880.6,738.6 L881.4,741.0 L882.2,742.0 L883.1,746.5 L883.9,753.8 L884.8,755.4 L885.6,751.5 L886.4,763.1 L887.3,765.3 L888.1,766.7 L889.0,775.3 L889.8,764.4 L890.6,771.2 L891.5,774.1 L892.3,767.4 L893.2,774.5 L894.0,771.9 L894.8,769.1 L895.7,775.7 L896.5,770.5 L897.4,763.0 L898.2,763.2 L899.0,756.6 L899.9,762.5 L900.7,749.6 L901.6,749.6 L902.4,744.9 L903.2,746.5 L904.1,740.3 L904.9,736.6 L905.8,735.3 L906.6,730.3 L907.4,730.5 L908.3,731.2 L909.1,730.1 L909.9,718.0 L910.8,723.0 L911.6,723.9 L912.5,722.0 L913.3,724.9 L914.1,721.7 L915.0,724.3 L915.8,719.0 L916.7,719.9 L917.5,719.2 L918.3,725.6 L919.2,725.6 L920.0,728.6 L920.9,726.2 L921.7,727.7 L922.5,725.4 L923.4,731.2 L924.2,730.1 L925.1,731.0 L925.9,735.1 L926.7,727.3 L927.6,731.7 L928.4,731.3 L929.3,732.8 L930.1,732.2 L930.9,733.1 L931.8,728.0 L932.6,732.4 L933.5,730.0 L934.3,732.5 L935.1,728.0 L936.0,733.5 L936.8,733.0 L937.7,736.3 L938.5,728.4 L939.3,730.0 L940.2,732.1 L941.0,733.0 L941.9,729.1 L942.7,730.5 L943.5,731.6 L944.4,733.8 L945.2,733.4 L946.0,731.7 L946.9,735.8 L947.7,733.9 L948.6,731.7 L949.4,729.6 L950.2,730.3 L951.1,726.5 L951.9,728.7 L952.8,718.9 L953.6,718.9 L954.4,716.6 L955.3,715.0 L956.1,709.5 L957.0,704.3 L957.8,706.1 L958.6,707.5 L959.5,700.5 L960.3,701.9 L961.2,699.9 L962.0,697.2 L962.8,695.1 L963.7,694.7 L964.5,699.2 L965.4,696.1 L966.2,695.3 L967.0,695.0 L967.9,696.1 L968.7,699.4 L969.6,700.5 L970.4,698.4 L971.2,700.3 L972.1,705.5 L972.9,709.0 L973.8,710.1 L974.6,709.5 L975.4,708.9 L976.3,714.3 L977.1,718.9 L978.0,722.1 L978.8,722.4 L979.6,722.8 L980.5,728.0 L981.3,725.8 L982.1,725.9 L983.0,726.2 L983.8,731.7 L984.7,729.4 L985.5,732.3 L986.3,733.5 L987.2,733.6 L988.0,733.3 L988.9,735.3 L989.7,731.6 L990.5,736.8 L991.4,735.1 L992.2,735.4 L993.1,737.8 L993.9,739.0 L994.7,742.2 L995.6,742.8 L996.4,751.8 L997.3,746.7 L998.1,755.0 L998.9,756.3 L999.8,757.8 L1000.6,765.7 L1001.5,772.4 L1002.3,771.8 L1003.1,778.8 L1004.0,774.0 L1004.8,780.7 L1005.7,780.8 L1006.5,781.1 L1007.3,783.7 L1008.2,784.2 L1009.0,787.7 L1009.9,791.1 L1010.7,788.2 L1011.5,788.7 L1012.4,783.0 L1013.2,778.7 L1014.1,779.8 L1014.9,775.6 L1015.7,764.6 L1016.6,761.7 L1017.4,758.4 L1018.2,751.0 L1019.1,742.9 L1019.9,742.5 L1020.8,732.6 L1021.6,738.3 L1022.4,728.3 L1023.3,720.4 L1024.1,721.6 L1025.0,719.0 L1025.8,716.5 L1026.6,711.4 L1027.5,706.3 L1028.3,707.1 L1029.2,714.2 L1030.0,709.2 L1030.8,709.3 L1031.7,712.6 L1032.5,711.5 L1033.4,717.4 L1034.2,722.4 L1035.0,722.8 L1035.9,733.4 L1036.7,730.0 L1037.6,738.7 L1038.4,740.2 L1039.2,745.4 L1040.1,744.5 L1040.9,740.4 L1041.8,743.0 L1042.6,748.0 L1043.4,745.8 L1044.3,750.8 L1045.1,742.0 L1046.0,746.5 L1046.8,741.8 L1047.6,741.2 L1048.5,739.6 L1049.3,729.1 L1050.2,728.7 L1051.0,727.6 L1051.8,721.9 L1052.7,714.5 L1053.5,712.5 L1054.3,709.0 L1055.2,703.6 L1056.0,702.8 L1056.9,702.5 L1057.7,697.9 L1058.5,691.0 L1059.4,690.1 L1060.2,693.2 L1061.1,693.2 L1061.9,688.1 L1062.7,687.5 L1063.6,682.7 L1064.4,692.6 L1065.3,690.8 L1066.1,690.8 L1066.9,696.1 L1067.8,698.7 L1068.6,704.3 L1069.5,700.6 L1070.3,704.8 L1071.1,702.5 L1072.0,706.8 L1072.8,706.8 L1073.7,705.9 L1074.5,707.9 L1075.3,712.5 L1076.2,709.1 L1077.0,709.8 L1077.9,702.6 L1078.7,707.8 L1079.5,698.7 L1080.4,701.1 L1081.2,700.6 L1082.1,704.0 L1082.9,697.4 L1083.7,692.4 L1084.6,691.7 L1085.4,692.1 L1086.3,692.7 L1087.1,690.5 L1087.9,692.9 L1088.8,693.4 L1089.6,691.0 L1090.4,694.6 L1091.3,697.2 L1092.1,695.1 L1093.0,698.8 L1093.8,704.7 L1094.6,706.1 L1095.5,711.6 L1096.3,714.2 L1097.2,715.1 L1098.0,721.6 L1098.8,723.0 L1099.7,727.6 L1100.5,735.8 L1101.4,730.1 L1102.2,730.5 L1103.0,738.5 L1103.9,735.9 L1104.7,736.4 L1105.6,741.9 L1106.4,738.7 L1107.2,732.9 L1108.1,741.0 L1108.9,735.4 L1109.8,732.5 L1110.6,733.8 L1111.4,730.5 L1112.3,725.1 L1113.1,726.1 L1114.0,718.1 L1114.8,718.7 L1115.6,713.3 L1116.5,712.6 L1117.3,709.7 L1118.2,703.7 L1119.0,702.0 L1119.8,706.0 L1120.7,703.1 L1121.5,702.3 L1122.4,701.3 L1123.2,699.3 L1124.0,694.9 L1124.9,699.2 L1125.7,701.5 L1126.5,704.3 L1127.4,701.4 L1128.2,714.4 L1129.1,712.0 L1129.9,718.1 L1130.7,712.4 L1131.6,721.2 L1132.4,719.4 L1133.3,725.6 L1134.1,721.2 L1134.9,727.5 L1135.8,728.0 L1136.6,722.8 L1137.5,722.7 L1138.3,721.9 L1139.1,721.5 L1140.0,719.6 L1140.8,712.2 L1141.7,709.0 L1142.5,705.2 L1143.3,702.3 L1144.2,694.2 L1145.0,692.2 L1145.9,688.1 L1146.7,685.0 L1147.5,676.7 L1148.4,677.3 L1149.2,673.7 L1150.1,667.9 L1150.9,664.4 L1151.7,663.3 L1152.6,659.4 L1153.4,658.5 L1154.3,660.3 L1155.1,656.3 L1155.9,655.3 L1156.8,654.6 L1157.6,655.1 L1158.5,657.5 L1159.3,658.6 L1160.1,653.5 L1161.0,658.4 L1161.8,659.6 L1162.6,663.7 L1163.5,666.2 L1164.3,663.5 L1165.2,664.2 L1166.0,662.1 L1166.8,668.8 L1167.7,668.5 L1168.5,666.5 L1169.4,662.2 L1170.2,664.5 L1171.0,663.5 L1171.9,660.6 L1172.7,660.3 L1173.6,655.2 L1174.4,656.0 L1175.2,649.4 L1176.1,654.7 L1176.9,656.3 L1177.8,645.8 L1178.6,650.4 L1179.4,648.0 L1180.3,646.5 L1181.1,648.7 L1182.0,642.6 L1182.8,647.2 L1183.6,645.2 L1184.5,647.2 L1185.3,644.0 L1186.2,647.7 L1187.0,651.6 L1187.8,652.6 L1188.7,650.3 L1189.5,660.0 L1190.4,660.3 L1191.2,663.5 L1192.0,668.1 L1192.9,667.8 L1193.7,674.5 L1194.6,675.0 L1195.4,675.6 L1196.2,677.9 L1197.1,681.3 L1197.9,686.2 L1198.7,678.9 L1199.6,673.4 L1200.4,680.6 L1201.3,677.1 L1202.1,678.0 L1202.9,675.6 L1203.8,675.4 L1204.6,672.2 L1205.5,667.0 L1206.3,665.0 L1207.1,660.7 L1208.0,658.3 L1208.8,655.8 L1209.7,655.1 L1210.5,645.4 L1211.3,648.9 L1212.2,639.7 L1213.0,639.8 L1213.9,642.1 L1214.7,632.5 L1215.5,634.0 L1216.4,630.8 L1217.2,627.9 L1218.1,632.2 L1218.9,625.1 L1219.7,629.8 L1220.6,627.4 L1221.4,629.6 L1222.3,628.6 L1223.1,628.0 L1223.9,627.5 L1224.8,631.2 L1225.6,626.1 L1226.5,632.3 L1227.3,634.0 L1228.1,630.7 L1229.0,632.6 L1229.8,633.9 L1230.7,636.0 L1231.5,634.3 L1232.3,634.1 L1233.2,634.2 L1234.0,632.5 L1234.8,630.4 L1235.7,638.3 L1236.5,638.4 L1237.4,636.8 L1238.2,633.4 L1239.0,636.2 L1239.9,637.2 L1240.7,633.3 L1241.6,634.7 L1242.4,630.7 L1243.2,634.4 L1244.1,637.8 L1244.9,637.0 L1245.8,636.8 L1246.6,636.1 L1247.4,634.1 L1248.3,633.4 L1249.1,634.9 L1250.0,636.9 L1250.8,636.2 L1251.6,638.7 L1252.5,632.9 L1253.3,637.3 L1254.2,631.2 L1255.0,634.2 L1255.8,632.5 L1256.7,634.3 L1257.5,629.7 L1258.4,629.0 L1259.2,626.7 L1260.0,622.3 L1260.9,623.6 L1261.7,616.1 L1262.6,613.5 L1263.4,613.0 L1264.2,607.6 L1265.1,604.7 L1265.9,604.9 L1266.7,602.2 L1267.6,599.2 L1268.4,602.3 L1269.3,595.9 L1270.1,601.4 L1270.9,600.0 L1271.8,597.6 L1272.6,597.0 L1273.5,599.8 L1274.3,593.5 L1275.1,595.2 L1276.0,602.4 L1276.8,599.5 L1277.7,604.0 L1278.5,606.9 L1279.3,605.0 L1280.2,612.4 L1281.0,608.6 L1281.9,613.7 L1282.7,615.9 L1283.5,613.7 L1284.4,624.3 L1285.2,619.1 L1286.1,621.2 L1286.9,627.6 L1287.7,624.3 L1288.6,628.6 L1289.4,628.0 L1290.3,628.3 L1291.1,628.2 L1291.9,631.0 L1292.8,632.8 L1293.6,634.4 L1294.5,632.8 L1295.3,637.6 L1296.1,635.3 L1297.0,637.8 L1297.8,635.6 L1298.7,635.5 L1299.5,645.8 L1300.3,639.2 L1301.2,647.0 L1302.0,648.0 L1302.8,649.0 L1303.7,649.8 L1304.5,652.4 L1305.4,659.2 L1306.2,658.0 L1307.0,664.0 L1307.9,664.7 L1308.7,667.8 L1309.6,671.0 L1310.4,671.8 L1311.2,680.0 L1312.1,682.7 L1312.9,683.4 L1313.8,681.6 L1314.6,683.3 L1315.4,683.9 L1316.3,688.4 L1317.1,684.9 L1318.0,683.7 L1318.8,684.7 L1319.6,684.1 L1320.5,681.7 L1321.3,680.9 L1322.2,673.0 L1323.0,675.2 L1323.8,666.1 L1324.7,661.2 L1325.5,661.4 L1326.4,651.6 L1327.2,648.7 L1328.0,641.1 L1328.9,642.2 L1329.7,634.5 L1330.6,631.5 L1331.4,622.5 L1332.2,614.6 L1333.1,619.1 L1333.9,615.1 L1334.8,608.3 L1335.6,609.0 L1336.4,607.7 L1337.3,604.8 L1338.1,607.3 L1338.9,607.1 L1339.8,613.3 L1340.6,617.0 L1341.5,622.1 L1342.3,628.5 L1343.1,630.2 L1344.0,632.0 L1344.8,635.3 L1345.7,643.6 L1346.5,632.9 L1347.3,635.4 L1348.2,635.6 L1349.0,644.1 L1349.9,634.8 L1350.7,640.2 L1351.5,644.6 L1352.4,640.3 L1353.2,634.6 L1354.1,639.9 L1354.9,635.6 L1355.7,630.0 L1356.6,620.3 L1357.4,616.3 L1358.3,616.7 L1359.1,610.6 L1359.9,604.2 L1360.8,604.2 L1361.6,602.0 L1362.5,600.7 L1363.3,598.5 L1364.1,587.9 L1365.0,590.5 L1365.8,584.7 L1366.7,587.5 L1367.5,593.8 L1368.3,586.8 L1369.2,586.4 L1370.0,584.7 L1370.9,587.2 L1371.7,591.7 L1372.5,594.1 L1373.4,594.5 L1374.2,601.1 L1375.0,591.8 L1375.9,599.9 L1376.7,595.0 L1377.6,603.1 L1378.4,602.1 L1379.2,601.1 L1380.1,604.6 L1380.9,605.0 L1381.8,608.5 L1382.6,603.0 L1383.4,609.5 L1384.3,608.2 L1385.1,605.1 L1386.0,603.4 L1386.8,603.0 L1387.6,601.8 L1388.5,595.9 L1389.3,594.8 L1390.2,586.6 L1391.0,586.6 L1391.8,587.3 L1392.7,584.8 L1393.5,581.8 L1394.4,585.1 L1395.2,588.4 L1396.0,588.7 L1396.9,581.2 L1397.7,587.9 L1398.6,587.3 L1399.4,594.5 L1400.2,593.5 L1401.1,597.9 L1401.9,601.2 L1402.8,602.4 L1403.6,603.6 L1404.4,607.4 L1405.3,617.1 L1406.1,617.3 L1407.0,621.8 L1407.8,627.4 L1408.6,628.8 L1409.5,634.3 L1410.3,630.0 L1411.1,637.2 L1412.0,635.6 L1412.8,636.7 L1413.7,641.7 L1414.5,636.0 L1415.3,631.5 L1416.2,630.7 L1417.0,627.3 L1417.9,623.7 L1418.7,617.8 L1419.5,616.4 L1420.4,614.6 L1421.2,605.3 L1422.1,606.1 L1422.9,600.7 L1423.7,600.4 L1424.6,595.6 L1425.4,598.5 L1426.3,594.7 L1427.1,592.1 L1427.9,591.8 L1428.8,592.1 L1429.6,594.7 L1430.5,594.9 L1431.3,598.9 L1432.1,596.1 L1433.0,598.6 L1433.8,602.2 L1434.7,609.8 L1435.5,606.3 L1436.3,610.9 L1437.2,613.3 L1438.0,607.7 L1438.9,612.6 L1439.7,616.1 L1440.5,616.7 L1441.4,619.3 L1442.2,620.4 L1443.1,616.1 L1443.9,616.0 L1444.7,615.2 L1445.6,607.6 L1446.4,608.1 L1447.2,608.9 L1448.1,603.1 L1448.9,595.7 L1449.8,592.7 L1450.6,587.9 L1451.4,580.8 L1452.3,579.8 L1453.1,571.5 L1454.0,560.4 L1454.8,563.1 L1455.6,559.2 L1456.5,557.2 L1457.3,551.7 L1458.2,547.7 L1459.0,549.6 L1459.8,545.8 L1460.7,543.8 L1461.5,545.5 L1462.4,541.6 L1463.2,544.1 L1464.0,539.3 L1464.9,543.1 L1465.7,550.1 L1466.6,543.5 L1467.4,545.8 L1468.2,547.2 L1469.1,550.8 L1469.9,547.5 L1470.8,549.7 L1471.6,551.8 L1472.4,551.4 L1473.3,550.0 L1474.1,556.6 L1475.0,556.0 L1475.8,557.8 L1476.6,553.6 L1477.5,549.0 L1478.3,547.6 L1479.2,546.6 L1480.0,542.7 L1480.8,544.1 L1481.7,545.0 L1482.5,541.7 L1483.3,539.6 L1484.2,536.9 L1485.0,539.9 L1485.9,534.7 L1486.7,535.1 L1487.5,541.5 L1488.4,531.3 L1489.2,534.9 L1490.1,534.2 L1490.9,531.8 L1491.7,534.7 L1492.6,534.5 L1493.4,535.2 L1494.3,541.7 L1495.1,539.7 L1495.9,537.4 L1496.8,548.6 L1497.6,548.8 L1498.5,548.6 L1499.3,551.6 L1500.1,556.6 L1501.0,557.3 L1501.8,561.5 L1502.7,566.6 L1503.5,564.8 L1504.3,567.1 L1505.2,568.1 L1506.0,568.2 L1506.9,566.2 L1507.7,570.7 L1508.5,563.8 L1509.4,564.6 L1510.2,557.3 L1511.1,557.9 L1511.9,555.7 L1512.7,548.8 L1513.6,544.5 L1514.4,546.6 L1515.3,540.4 L1516.1,532.3 L1516.9,532.9 L1517.8,527.3 L1518.6,525.8 L1519.4,519.5 L1520.3,519.4 L1521.1,518.0 L1522.0,515.0 L1522.8,513.0 L1523.6,518.0 L1524.5,511.5 L1525.3,514.6 L1526.2,511.8 L1527.0,510.6 L1527.8,512.6 L1528.7,507.4 L1529.5,510.5 L1530.4,513.8 L1531.2,508.9 L1532.0,510.8 L1532.9,514.0 L1533.7,516.0 L1534.6,519.0 L1535.4,520.0 L1536.2,518.1 L1537.1,513.2 L1537.9,519.5 L1538.8,518.3 L1539.6,518.0 L1540.4,519.6 L1541.3,516.4 L1542.1,521.1 L1543.0,518.5 L1543.8,514.9 L1544.6,517.7 L1545.5,519.3 L1546.3,517.1 L1547.2,515.9 L1548.0,519.5 L1548.8,517.2 L1549.7,516.2 L1550.5,517.7 L1551.4,517.0 L1552.2,516.2 L1553.0,516.9 L1553.9,519.5 L1554.7,519.7 L1555.5,518.5 L1556.4,514.8 L1557.2,518.0 L1558.1,519.4 L1558.9,518.7 L1559.7,513.2 L1560.6,518.4 L1561.4,517.5 L1562.3,516.9 L1563.1,518.1 L1563.9,504.6 L1564.8,510.0 L1565.6,507.9 L1566.5,511.2 L1567.3,504.6 L1568.1,504.4 L1569.0,498.1 L1569.8,496.8 L1570.7,493.0 L1571.5,493.7 L1572.3,488.6 L1573.2,489.0 L1574.0,489.1 L1574.9,485.3 L1575.7,480.0 L1576.5,478.4 L1577.4,478.7 L1578.2,482.8 L1579.1,475.2 L1579.9,476.8 L1580.7,477.5 L1581.6,474.0 L1582.4,476.9 L1583.3,475.7 L1584.1,480.2 L1584.9,481.9 L1585.8,479.4 L1586.6,485.3 L1587.5,485.8 L1588.3,491.3 L1589.1,494.8 L1590.0,495.2 L1590.8,494.7 L1591.6,497.2 L1592.5,504.0 L1593.3,504.5 L1594.2,504.9 L1595.0,504.4 L1595.8,503.9 L1596.7,507.2 L1597.5,508.0 L1598.4,512.4 L1599.2,510.3 L1600.0,509.4 L1600.9,515.4 L1601.7,505.2 L1602.6,510.7 L1603.4,515.5 L1604.2,513.4 L1605.1,513.8 L1605.9,516.5 L1606.8,521.7 L1607.6,518.9 L1608.4,527.0 L1609.3,523.0 L1610.1,524.7 L1611.0,526.7 L1611.8,529.5 L1612.6,529.4 L1613.5,536.3 L1614.3,540.4 L1615.2,540.6 L1616.0,542.3 L1616.8,546.7 L1617.7,551.3 L1618.5,550.8 L1619.4,557.4 L1620.2,564.7 L1621.0,561.4 L1621.9,560.9 L1622.7,561.2 L1623.6,567.1 L1624.4,562.0 L1625.2,561.7 L1626.1,564.9 L1626.9,556.0 L1627.7,554.7 L1628.6,549.1 L1629.4,542.1 L1630.3,536.5 L1631.1,539.2 L1631.9,532.4 L1632.8,523.7 L1633.6,523.5 L1634.5,511.3 L1635.3,506.2 L1636.1,499.2 L1637.0,497.6 L1637.8,494.2 L1638.7,487.9 L1639.5,486.3 L1640.3,482.5 L1641.2,481.7 L1642.0,482.4 L1642.9,487.6 L1643.7,484.8 L1644.5,485.8 L1645.4,489.2 L1646.2,489.2 L1647.1,489.3 L1647.9,493.6 L1648.7,495.0 L1649.6,498.7 L1650.4,507.2 L1651.3,510.0 L1652.1,510.8 L1652.9,515.5 L1653.8,514.9 L1654.6,516.2 L1655.5,516.6 L1656.3,513.2 L1657.1,513.5 L1658.0,517.0 L1658.8,513.7 L1659.6,514.0 L1659.6,954.3 L248.4,954.3Z" fill="#4361ee" fill-opacity="0.3"/>
<path d="M248.4,774.0 L249.2,773.7 L250.1,774.9 L250.9,773.8 L251.8,769.7 L252.6,767.9 L253.4,766.6 L254.3,765.4 L255.1,764.4 L256.0,765.1 L256.8,763.8 L257.6,759.9 L258.5,758.6 L259.3,757.9 L260.2,757.5 L261.0,757.8 L261.8,759.7 L262.7,759.5 L263.5,756.7 L264.4,757.0 L265.2,758.9 L266.0,761.2 L266.9,763.9 L267.7,768.7 L268.5,771.5 L269.4,771.4 L270.2,773.9 L271.1,776.9 L271.9,780.0 L272.7,783.2 L273.6,788.1 L274.4,790.7 L275.3,790.3 L276.1,792.0 L276.9,794.3 L277.8,796.2 L278.6,797.2 L279.5,799.1 L280.3,798.5 L281.1,794.9 L282.0,793.6 L282.8,792.3 L283.7,790.8 L284.5,789.2 L285.3,788.8 L286.2,785.5 L287.0,779.4 L287.9,775.9 L288.7,772.9 L289.5,769.9 L290.4,767.4 L291.2,766.8 L292.1,764.0 L292.9,758.6 L293.7,756.0 L294.6,754.1 L295.4,752.4 L296.3,751.3 L297.1,752.2 L297.9,751.5 L298.8,748.1 L299.6,747.4 L300.5,747.4 L301.3,748.4 L302.1,750.3 L303.0,753.7 L303.8,754.5 L304.6,752.6 L305.5,753.1 L306.3,754.1 L307.2,755.2 L308.0,756.6 L308.8,759.6 L309.7,760.3 L310.5,758.2 L311.4,758.5 L312.2,759.1 L313.0,759.8 L313.9,760.6 L314.7,762.9 L315.6,763.1 L316.4,760.4 L317.2,760.2 L318.1,760.5 L318.9,760.8 L319.8,761.4 L320.6,763.7 L321.4,763.8 L322.3,761.2 L323.1,761.2 L324.0,761.8 L324.8,762.6 L325.6,763.7 L326.5,766.4 L327.3,766.9 L328.2,764.7 L329.0,764.9 L329.8,765.6 L330.7,766.1 L331.5,766.7 L332.4,768.8 L333.2,768.7 L334.0,765.8 L334.9,765.2 L335.7,764.7 L336.6,763.8 L337.4,763.0 L338.2,763.7 L339.1,761.7 L339.9,756.5 L340.7,753.7 L341.6,751.4 L342.4,749.1 L343.3,747.0 L344.1,746.7 L344.9,744.3 L345.8,739.0 L346.6,736.4 L347.5,734.6 L348.3,733.4 L349.1,732.7 L350.0,733.8 L350.8,732.9 L351.7,729.4 L352.5,728.4 L353.3,728.5 L354.2,729.6 L355.0,731.4 L355.9,734.8 L356.7,736.1 L357.5,734.8 L358.4,736.3 L359.2,738.6 L360.1,741.3 L360.9,744.3 L361.7,749.2 L362.6,752.2 L363.4,752.2 L364.3,754.5 L365.1,757.1 L365.9,759.7 L366.8,762.3 L367.6,766.3 L368.5,767.9 L369.3,766.5 L370.1,767.4 L371.0,768.6 L371.8,769.7 L372.7,771.0 L373.5,774.0 L374.3,774.8 L375.2,772.8 L376.0,773.4 L376.8,774.4 L377.7,775.6 L378.5,777.1 L379.4,780.4 L380.2,781.7 L381.0,780.4 L381.9,781.9 L382.7,784.2 L383.6,787.0 L384.4,790.8 L385.2,796.8 L386.1,800.6 L386.9,802.1 L387.8,806.1 L388.6,810.3 L389.4,814.4 L390.3,818.7 L391.1,824.0 L392.0,826.5 L392.8,826.0 L393.6,827.5 L394.5,829.2 L395.3,830.8 L396.2,832.1 L397.0,834.1 L397.8,833.4 L398.7,829.7 L399.5,827.9 L400.4,825.7 L401.2,823.0 L402.0,820.5 L402.9,819.3 L403.7,815.6 L404.6,808.8 L405.4,803.8 L406.2,798.9 L407.1,794.0 L407.9,789.1 L408.8,785.8 L409.6,780.8 L410.4,773.3 L411.3,768.7 L412.1,765.6 L412.9,763.1 L413.8,761.4 L414.6,762.3 L415.5,761.7 L416.3,758.6 L417.1,758.2 L418.0,759.4 L418.8,761.8 L419.7,764.6 L420.5,769.0 L421.3,771.6 L422.2,771.6 L423.0,774.4 L423.9,778.2 L424.7,782.1 L425.5,785.8 L426.4,791.2 L427.2,794.1 L428.1,793.7 L428.9,795.7 L429.7,797.9 L430.6,798.9 L431.4,799.0 L432.3,800.2 L433.1,798.8 L433.9,794.2 L434.8,790.8 L435.6,787.2 L436.5,783.9 L437.3,780.5 L438.1,778.7 L439.0,774.8 L439.8,768.0 L440.7,763.8 L441.5,760.3 L442.3,757.3 L443.2,754.8 L444.0,754.3 L444.9,752.2 L445.7,747.5 L446.5,745.8 L447.4,745.4 L448.2,745.2 L449.0,745.5 L449.9,748.0 L450.7,748.9 L451.6,747.3 L452.4,748.6 L453.2,751.1 L454.1,753.9 L454.9,756.8 L455.8,761.3 L456.6,763.6 L457.4,763.0 L458.3,764.8 L459.1,766.9 L460.0,768.3 L460.8,769.4 L461.6,771.9 L462.5,772.1 L463.3,769.1 L464.2,767.8 L465.0,766.7 L465.8,765.5 L466.7,764.1 L467.5,764.1 L468.4,762.0 L469.2,757.5 L470.0,755.6 L470.9,754.2 L471.7,753.3 L472.6,753.2 L473.4,754.7 L474.2,754.3 L475.1,751.3 L475.9,751.2 L476.8,752.2 L477.6,753.7 L478.4,755.9 L479.3,760.9 L480.1,764.3 L480.9,764.7 L481.8,767.6 L482.6,771.0 L483.5,774.5 L484.3,778.5 L485.1,784.3 L486.0,787.7 L486.8,788.1 L487.7,790.8 L488.5,793.8 L489.3,796.4 L490.2,799.2 L491.0,803.5 L491.9,805.2 L492.7,803.2 L493.5,802.9 L494.4,803.0 L495.2,803.3 L496.1,803.8 L496.9,805.0 L497.7,802.9 L498.6,797.5 L499.4,793.9 L500.3,789.0 L501.1,783.4 L501.9,778.3 L502.8,776.4 L503.6,774.5 L504.5,770.6 L505.3,769.5 L506.1,769.1 L507.0,768.9 L507.8,769.0 L508.7,770.9 L509.5,770.7 L510.3,768.2 L511.2,769.2 L512.0,771.1 L512.9,773.3 L513.7,776.5 L514.5,781.5 L515.4,784.0 L516.2,783.7 L517.0,785.8 L517.9,788.1 L518.7,790.2 L519.6,792.6 L520.4,796.5 L521.2,797.7 L522.1,795.2 L522.9,794.7 L523.8,794.6 L524.6,794.4 L525.4,794.3 L526.3,794.8 L527.1,792.3 L528.0,786.7 L528.8,783.6 L529.6,780.6 L530.5,777.3 L531.3,774.2 L532.2,772.7 L533.0,768.8 L533.8,762.1 L534.7,757.8 L535.5,753.9 L536.4,749.8 L537.2,746.3 L538.0,745.0 L538.9,742.1 L539.7,736.7 L540.6,734.2 L541.4,732.9 L542.2,732.3 L543.1,732.1 L543.9,733.8 L544.8,733.6 L545.6,731.1 L546.4,731.5 L547.3,732.5 L548.1,733.9 L549.0,736.3 L549.8,740.5 L550.6,742.3 L551.5,741.2 L552.3,742.7 L553.1,744.2 L554.0,745.1 L554.8,745.3 L555.7,746.6 L556.5,745.5 L557.3,741.4 L558.2,739.5 L559.0,737.7 L559.9,735.9 L560.7,734.6 L561.5,735.1 L562.4,733.4 L563.2,729.1 L564.1,727.6 L564.9,726.9 L565.7,726.3 L566.6,726.3 L567.4,728.1 L568.3,728.2 L569.1,725.6 L569.9,725.6 L570.8,726.4 L571.6,728.6 L572.5,731.7 L573.3,736.3 L574.1,738.7 L575.0,738.5 L575.8,740.8 L576.7,743.6 L577.5,746.7 L578.3,750.2 L579.2,755.1 L580.0,757.5 L580.9,757.0 L581.7,758.7 L582.5,760.6 L583.4,762.2 L584.2,764.1 L585.1,767.4 L585.9,768.0 L586.7,765.2 L587.6,764.3 L588.4,763.6 L589.2,762.8 L590.1,761.9 L590.9,761.7 L591.8,758.8 L592.6,753.0 L593.4,749.9 L594.3,747.0 L595.1,744.1 L596.0,741.4 L596.8,740.2 L597.6,736.7 L598.5,730.5 L599.3,727.1 L600.2,724.2 L601.0,721.6 L601.8,719.9 L602.7,720.7 L603.5,719.5 L604.4,715.9 L605.2,715.2 L606.0,715.5 L606.9,716.1 L607.7,717.1 L608.6,719.8 L609.4,720.6 L610.2,718.8 L611.1,719.4 L611.9,720.4 L612.8,721.5 L613.6,722.9 L614.4,725.9 L615.3,726.6 L616.1,724.6 L617.0,725.0 L617.8,725.7 L618.6,726.4 L619.5,727.2 L620.3,729.7 L621.2,729.8 L622.0,727.3 L622.8,727.1 L623.7,727.5 L624.5,727.9 L625.3,728.6 L626.2,731.0 L627.0,731.2 L627.9,728.7 L628.7,728.8 L629.5,729.3 L630.4,730.0 L631.2,731.0 L632.1,733.6 L632.9,734.1 L633.7,731.9 L634.6,732.1 L635.4,732.7 L636.3,733.1 L637.1,733.6 L637.9,735.8 L638.8,735.8 L639.6,733.0 L640.5,732.4 L641.3,731.7 L642.1,730.9 L643.0,730.2 L643.8,730.9 L644.7,728.9 L645.5,723.9 L646.3,721.4 L647.2,719.1 L648.0,716.8 L648.9,714.7 L649.7,714.3 L650.5,711.6 L651.4,706.1 L652.2,703.4 L653.1,701.6 L653.9,700.1 L654.7,699.1 L655.6,700.1 L656.4,699.5 L657.3,696.3 L658.1,695.7 L658.9,695.8 L659.8,696.4 L660.6,697.7 L661.4,700.9 L662.3,702.2 L663.1,701.2 L664.0,703.0 L664.8,705.4 L665.6,708.3 L666.5,711.5 L667.3,716.3 L668.2,718.9 L669.0,718.7 L669.8,720.9 L670.7,723.2 L671.5,725.5 L672.4,728.0 L673.2,732.0 L674.0,733.6 L674.9,732.4 L675.7,733.5 L676.6,734.8 L677.4,736.0 L678.2,737.3 L679.1,740.3 L679.9,741.1 L680.8,739.4 L681.6,740.2 L682.4,741.5 L683.3,742.9 L684.1,744.5 L685.0,747.7 L685.8,748.8 L686.6,747.3 L687.5,748.7 L688.3,750.7 L689.2,753.1 L690.0,755.9 L690.8,760.6 L691.7,763.4 L692.5,763.6 L693.4,766.4 L694.2,769.8 L695.0,773.4 L695.9,777.4 L696.7,783.0 L697.5,786.8 L698.4,787.7 L699.2,790.2 L700.1,792.7 L700.9,795.0 L701.7,796.8 L702.6,799.6 L703.4,800.0 L704.3,797.3 L705.1,795.9 L705.9,794.1 L706.8,792.1 L707.6,789.9 L708.5,788.5 L709.3,784.5 L710.1,777.5 L711.0,772.6 L711.8,768.0 L712.7,763.7 L713.5,759.7 L714.3,757.3 L715.2,752.9 L716.0,745.7 L716.9,741.2 L717.7,737.4 L718.5,734.1 L719.4,731.3 L720.2,730.7 L721.1,728.4 L721.9,723.8 L722.7,722.9 L723.6,723.6 L724.4,725.0 L725.3,727.0 L726.1,731.5 L726.9,734.4 L727.8,734.5 L728.6,737.3 L729.5,740.9 L730.3,744.4 L731.1,748.3 L732.0,753.8 L732.8,756.9 L733.6,756.9 L734.5,759.4 L735.3,761.7 L736.2,763.4 L737.0,765.1 L737.8,768.0 L738.7,767.9 L739.5,764.3 L740.4,762.5 L741.2,761.0 L742.0,758.6 L742.9,755.7 L743.7,754.1 L744.6,750.3 L745.4,743.3 L746.2,738.6 L747.1,734.4 L747.9,730.2 L748.8,726.6 L749.6,725.4 L750.4,722.4 L751.3,717.1 L752.1,715.0 L753.0,713.8 L753.8,712.9 L754.6,712.9 L755.5,715.0 L756.3,715.0 L757.2,712.3 L758.0,712.3 L758.8,713.7 L759.7,715.8 L760.5,718.3 L761.4,723.1 L762.2,726.0 L763.0,725.7 L763.9,727.6 L764.7,729.8 L765.6,731.7 L766.4,733.5 L767.2,736.8 L768.1,737.7 L768.9,735.2 L769.7,734.7 L770.6,734.5 L771.4,734.3 L772.3,734.0 L773.1,734.5 L773.9,732.6 L774.8,728.0 L775.6,725.6 L776.5,723.6 L777.3,722.4 L778.1,722.2 L779.0,723.8 L779.8,723.3 L780.7,720.1 L781.5,719.5 L782.3,719.5 L783.2,719.6 L784.0,720.7 L784.9,724.4 L785.7,726.6 L786.5,726.1 L787.4,728.3 L788.2,731.6 L789.1,735.2 L789.9,739.0 L790.7,744.5 L791.6,748.0 L792.4,748.6 L793.3,751.5 L794.1,754.7 L794.9,757.9 L795.8,761.1 L796.6,765.5 L797.5,767.5 L798.3,766.5 L799.1,767.7 L800.0,768.9 L800.8,770.0 L801.7,771.0 L802.5,772.6 L803.3,771.0 L804.2,766.0 L805.0,763.5 L805.8,760.7 L806.7,757.8 L807.5,755.2 L808.4,754.1 L809.2,750.7 L810.0,744.8 L810.9,741.7 L811.7,739.2 L812.6,737.4 L813.4,736.4 L814.2,737.4 L815.1,736.6 L815.9,733.5 L816.8,733.1 L817.6,733.1 L818.4,734.3 L819.3,736.8 L820.1,741.3 L821.0,743.5 L821.8,743.3 L822.6,745.7 L823.5,748.4 L824.3,751.0 L825.2,754.0 L826.0,758.4 L826.8,760.4 L827.7,759.3 L828.5,760.6 L829.4,761.8 L830.2,762.1 L831.0,762.4 L831.9,764.1 L832.7,763.3 L833.6,757.8 L834.4,753.6 L835.2,749.9 L836.1,745.9 L836.9,741.7 L837.8,739.1 L838.6,734.0 L839.4,725.9 L840.3,720.4 L841.1,715.8 L841.9,711.5 L842.8,707.9 L843.6,706.8 L844.5,704.0 L845.3,698.9 L846.1,697.0 L847.0,695.9 L847.8,695.1 L848.7,695.1 L849.5,697.0 L850.3,696.9 L851.2,694.0 L852.0,693.9 L852.9,695.2 L853.7,696.9 L854.5,699.0 L855.4,702.8 L856.2,704.7 L857.1,703.6 L857.9,704.7 L858.7,706.4 L859.6,707.9 L860.4,709.2 L861.3,711.3 L862.1,710.6 L862.9,706.8 L863.8,705.4 L864.6,704.2 L865.5,702.8 L866.3,701.5 L867.1,701.9 L868.0,700.1 L868.8,695.5 L869.7,693.5 L870.5,692.2 L871.3,691.2 L872.2,690.7 L873.0,692.0 L873.8,691.5 L874.7,688.3 L875.5,687.7 L876.4,687.9 L877.2,688.9 L878.0,690.8 L878.9,694.4 L879.7,696.4 L880.6,696.1 L881.4,698.4 L882.2,701.2 L883.1,704.4 L883.9,708.0 L884.8,713.0 L885.6,716.0 L886.4,716.0 L887.3,718.1 L888.1,720.5 L889.0,722.7 L889.8,724.6 L890.6,727.7 L891.5,728.5 L892.3,726.1 L893.2,725.7 L894.0,725.5 L894.8,725.3 L895.7,725.0 L896.5,725.2 L897.4,722.7 L898.2,717.2 L899.0,713.8 L899.9,710.6 L900.7,707.4 L901.6,704.4 L902.4,703.0 L903.2,699.6 L904.1,693.4 L904.9,689.7 L905.8,686.7 L906.6,684.4 L907.4,682.6 L908.3,682.8 L909.1,681.3 L909.9,677.3 L910.8,676.0 L911.6,675.6 L912.5,675.4 L913.3,675.5 L914.1,677.6 L915.0,677.7 L915.8,675.2 L916.7,675.4 L917.5,676.2 L918.3,677.4 L919.2,679.2 L920.0,682.4 L920.9,683.5 L921.7,681.8 L922.5,682.5 L923.4,683.4 L924.2,684.4 L925.1,685.5 L925.9,688.0 L926.7,688.1 L927.6,685.3 L928.4,685.0 L929.3,685.1 L930.1,685.4 L930.9,685.9 L931.8,688.1 L932.6,688.2 L933.5,685.5 L934.3,685.3 L935.1,685.6 L936.0,686.0 L936.8,686.7 L937.7,689.1 L938.5,689.4 L939.3,686.8 L940.2,686.8 L941.0,687.2 L941.9,687.7 L942.7,688.4 L943.5,690.7 L944.4,690.6 L945.2,687.6 L946.0,686.9 L946.9,686.7 L947.7,686.2 L948.6,685.7 L949.4,686.6 L950.2,685.1 L951.1,680.5 L951.9,677.9 L952.8,675.6 L953.6,673.4 L954.4,671.4 L955.3,671.0 L956.1,668.4 L957.0,663.2 L957.8,660.6 L958.6,658.4 L959.5,656.5 L960.3,655.1 L961.2,655.4 L962.0,653.7 L962.8,649.7 L963.7,648.4 L964.5,647.8 L965.4,647.6 L966.2,648.3 L967.0,650.8 L967.9,651.3 L968.7,649.2 L969.6,650.1 L970.4,651.8 L971.2,653.8 L972.1,656.7 L972.9,661.7 L973.8,664.5 L974.6,664.6 L975.4,667.2 L976.3,670.0 L977.1,672.5 L978.0,675.2 L978.8,679.3 L979.6,680.8 L980.5,679.4 L981.3,680.2 L982.1,681.4 L983.0,682.6 L983.8,684.1 L984.7,687.1 L985.5,687.9 L986.3,685.8 L987.2,686.1 L988.0,686.8 L988.9,687.5 L989.7,688.7 L990.5,691.6 L991.4,692.3 L992.2,690.5 L993.1,691.4 L993.9,693.5 L994.7,696.2 L995.6,699.5 L996.4,704.8 L997.3,708.5 L998.1,709.4 L998.9,712.6 L999.8,716.3 L1000.6,720.0 L1001.5,723.9 L1002.3,729.5 L1003.1,732.6 L1004.0,732.6 L1004.8,735.0 L1005.7,737.5 L1006.5,739.3 L1007.3,740.8 L1008.2,743.8 L1009.0,744.1 L1009.9,741.0 L1010.7,739.6 L1011.5,738.3 L1012.4,736.5 L1013.2,733.8 L1014.1,732.2 L1014.9,728.3 L1015.7,721.2 L1016.6,716.2 L1017.4,711.6 L1018.2,707.0 L1019.1,702.6 L1019.9,699.8 L1020.8,694.8 L1021.6,686.9 L1022.4,681.9 L1023.3,677.9 L1024.1,674.3 L1025.0,671.5 L1025.8,671.2 L1026.6,669.0 L1027.5,665.0 L1028.3,664.7 L1029.2,664.8 L1030.0,665.1 L1030.8,667.0 L1031.7,671.3 L1032.5,673.4 L1033.4,673.1 L1034.2,675.5 L1035.0,678.7 L1035.9,682.8 L1036.7,687.5 L1037.6,693.2 L1038.4,696.2 L1039.2,696.2 L1040.1,698.2 L1040.9,700.1 L1041.8,701.8 L1042.6,703.4 L1043.4,705.9 L1044.3,705.3 L1045.1,701.1 L1046.0,699.0 L1046.8,697.2 L1047.6,694.8 L1048.5,692.3 L1049.3,691.2 L1050.2,687.8 L1051.0,681.1 L1051.8,676.7 L1052.7,672.8 L1053.5,668.7 L1054.3,664.8 L1055.2,663.0 L1056.0,659.5 L1056.9,653.6 L1057.7,650.6 L1058.5,648.8 L1059.4,647.4 L1060.2,646.7 L1061.1,648.1 L1061.9,647.6 L1062.7,644.4 L1063.6,644.0 L1064.4,644.5 L1065.3,645.9 L1066.1,647.9 L1066.9,651.8 L1067.8,654.2 L1068.6,654.0 L1069.5,655.7 L1070.3,657.7 L1071.1,659.6 L1072.0,661.7 L1072.8,665.3 L1073.7,666.8 L1074.5,665.3 L1075.3,665.7 L1076.2,665.7 L1077.0,665.1 L1077.9,664.3 L1078.7,665.0 L1079.5,663.4 L1080.4,658.6 L1081.2,656.2 L1082.1,654.3 L1082.9,652.6 L1083.7,651.0 L1084.6,651.3 L1085.4,650.2 L1086.3,646.8 L1087.1,646.0 L1087.9,645.9 L1088.8,646.2 L1089.6,647.5 L1090.4,650.8 L1091.3,652.2 L1092.1,651.7 L1093.0,654.3 L1093.8,657.3 L1094.6,660.5 L1095.5,664.3 L1096.3,669.7 L1097.2,672.9 L1098.0,673.5 L1098.8,676.6 L1099.7,679.9 L1100.5,683.1 L1101.4,686.5 L1102.2,691.5 L1103.0,693.8 L1103.9,692.6 L1104.7,693.4 L1105.6,694.4 L1106.4,695.1 L1107.2,695.5 L1108.1,696.6 L1108.9,694.9 L1109.8,690.2 L1110.6,687.7 L1111.4,684.8 L1112.3,681.5 L1113.1,678.6 L1114.0,677.4 L1114.8,674.0 L1115.6,667.8 L1116.5,664.5 L1117.3,662.0 L1118.2,659.6 L1119.0,657.9 L1119.8,658.6 L1120.7,657.9 L1121.5,654.6 L1122.4,654.0 L1123.2,654.0 L1124.0,654.9 L1124.9,656.9 L1125.7,660.9 L1126.5,662.8 L1127.4,662.3 L1128.2,664.6 L1129.1,667.4 L1129.9,670.0 L1130.7,672.8 L1131.6,677.1 L1132.4,679.0 L1133.3,677.5 L1134.1,678.1 L1134.9,679.1 L1135.8,679.9 L1136.6,680.7 L1137.5,682.2 L1138.3,680.3 L1139.1,674.8 L1140.0,671.7 L1140.8,668.4 L1141.7,664.4 L1142.5,660.3 L1143.3,658.0 L1144.2,653.5 L1145.0,646.0 L1145.9,641.1 L1146.7,636.9 L1147.5,632.9 L1148.4,629.1 L1149.2,627.3 L1150.1,623.9 L1150.9,618.4 L1151.7,615.6 L1152.6,613.6 L1153.4,612.3 L1154.3,611.7 L1155.1,613.0 L1155.9,612.3 L1156.8,609.2 L1157.6,609.1 L1158.5,610.1 L1159.3,611.5 L1160.1,613.1 L1161.0,616.7 L1161.8,618.3 L1162.6,617.0 L1163.5,617.7 L1164.3,618.8 L1165.2,619.8 L1166.0,620.9 L1166.8,623.3 L1167.7,623.1 L1168.5,619.9 L1169.4,619.0 L1170.2,618.3 L1171.0,617.7 L1171.9,617.1 L1172.7,617.7 L1173.6,616.0 L1174.4,611.4 L1175.2,609.4 L1176.1,607.6 L1176.9,605.8 L1177.8,604.6 L1178.6,605.5 L1179.4,604.6 L1180.3,601.1 L1181.1,600.2 L1182.0,600.2 L1182.8,600.7 L1183.6,601.9 L1184.5,604.9 L1185.3,605.9 L1186.2,604.4 L1187.0,605.9 L1187.8,608.1 L1188.7,610.3 L1189.5,613.1 L1190.4,617.7 L1191.2,620.3 L1192.0,620.1 L1192.9,622.4 L1193.7,625.2 L1194.6,628.0 L1195.4,630.6 L1196.2,634.4 L1197.1,636.1 L1197.9,634.5 L1198.7,634.7 L1199.6,634.7 L1200.4,634.7 L1201.3,634.9 L1202.1,636.2 L1202.9,634.2 L1203.8,628.7 L1204.6,625.6 L1205.5,622.9 L1206.3,620.1 L1207.1,617.3 L1208.0,616.0 L1208.8,612.6 L1209.7,606.3 L1210.5,602.4 L1211.3,599.0 L1212.2,596.1 L1213.0,593.4 L1213.9,592.6 L1214.7,590.1 L1215.5,585.6 L1216.4,583.7 L1217.2,582.6 L1218.1,581.9 L1218.9,582.1 L1219.7,584.0 L1220.6,583.9 L1221.4,581.0 L1222.3,580.7 L1223.1,581.3 L1223.9,582.5 L1224.8,584.1 L1225.6,587.2 L1226.5,588.0 L1227.3,586.1 L1228.1,586.5 L1229.0,587.3 L1229.8,588.0 L1230.7,588.9 L1231.5,591.5 L1232.3,591.8 L1233.2,589.1 L1234.0,588.9 L1234.8,588.9 L1235.7,589.1 L1236.5,589.4 L1237.4,591.5 L1238.2,591.3 L1239.0,588.3 L1239.9,587.8 L1240.7,587.8 L1241.6,587.9 L1242.4,588.5 L1243.2,590.9 L1244.1,591.2 L1244.9,588.8 L1245.8,588.8 L1246.6,589.3 L1247.4,589.9 L1248.3,590.8 L1249.1,593.2 L1250.0,593.3 L1250.8,590.5 L1251.6,590.0 L1252.5,589.8 L1253.3,589.7 L1254.2,589.7 L1255.0,591.0 L1255.8,589.4 L1256.7,584.7 L1257.5,582.3 L1258.4,580.4 L1259.2,578.2 L1260.0,576.2 L1260.9,575.7 L1261.7,572.9 L1262.6,567.2 L1263.4,564.0 L1264.2,561.6 L1265.1,559.6 L1265.9,557.9 L1266.7,558.2 L1267.6,556.7 L1268.4,552.7 L1269.3,551.3 L1270.1,550.6 L1270.9,550.3 L1271.8,550.8 L1272.6,553.0 L1273.5,553.1 L1274.3,550.4 L1275.1,550.6 L1276.0,552.1 L1276.8,554.2 L1277.7,556.6 L1278.5,561.1 L1279.3,563.7 L1280.2,563.6 L1281.0,565.7 L1281.9,568.2 L1282.7,570.7 L1283.5,573.5 L1284.4,577.6 L1285.2,579.5 L1286.1,578.6 L1286.9,580.0 L1287.7,581.6 L1288.6,582.9 L1289.4,584.4 L1290.3,587.5 L1291.1,588.2 L1291.9,586.2 L1292.8,586.5 L1293.6,587.2 L1294.5,587.9 L1295.3,589.0 L1296.1,591.8 L1297.0,592.5 L1297.8,590.7 L1298.7,591.4 L1299.5,592.9 L1300.3,594.7 L1301.2,597.4 L1302.0,602.0 L1302.8,604.6 L1303.7,604.4 L1304.5,606.9 L1305.4,610.0 L1306.2,613.3 L1307.0,616.9 L1307.9,622.3 L1308.7,625.5 L1309.6,625.9 L1310.4,628.4 L1311.2,631.3 L1312.1,634.1 L1312.9,636.8 L1313.8,640.7 L1314.6,642.3 L1315.4,640.7 L1316.3,640.7 L1317.1,640.5 L1318.0,640.1 L1318.8,639.8 L1319.6,640.9 L1320.5,639.1 L1321.3,633.5 L1322.2,629.8 L1323.0,626.4 L1323.8,622.7 L1324.7,618.7 L1325.5,616.0 L1326.4,611.1 L1327.2,603.2 L1328.0,597.5 L1328.9,592.3 L1329.7,587.4 L1330.6,582.9 L1331.4,580.2 L1332.2,575.9 L1333.1,569.7 L1333.9,566.1 L1334.8,563.8 L1335.6,563.3 L1336.4,563.9 L1337.3,566.0 L1338.1,566.2 L1338.9,564.9 L1339.8,567.2 L1340.6,570.2 L1341.5,573.8 L1342.3,578.3 L1343.1,584.6 L1344.0,589.0 L1344.8,591.0 L1345.7,594.0 L1346.5,594.5 L1347.3,594.8 L1348.2,595.4 L1349.0,597.7 L1349.9,597.7 L1350.7,595.0 L1351.5,594.7 L1352.4,594.9 L1353.2,595.1 L1354.1,595.6 L1354.9,594.0 L1355.7,586.8 L1356.6,577.5 L1357.4,572.7 L1358.3,568.7 L1359.1,565.0 L1359.9,562.0 L1360.8,560.8 L1361.6,557.7 L1362.5,551.7 L1363.3,548.3 L1364.1,545.9 L1365.0,544.0 L1365.8,542.7 L1366.7,543.6 L1367.5,543.0 L1368.3,539.8 L1369.2,539.2 L1370.0,539.9 L1370.9,541.6 L1371.7,543.7 L1372.5,547.5 L1373.4,549.2 L1374.2,548.1 L1375.0,549.5 L1375.9,551.3 L1376.7,553.3 L1377.6,555.5 L1378.4,559.5 L1379.2,561.1 L1380.1,559.7 L1380.9,560.8 L1381.8,561.7 L1382.6,562.0 L1383.4,562.3 L1384.3,564.1 L1385.1,563.2 L1386.0,558.3 L1386.8,555.3 L1387.6,553.1 L1388.5,550.7 L1389.3,548.7 L1390.2,548.4 L1391.0,546.0 L1391.8,541.3 L1392.7,540.0 L1393.5,539.4 L1394.4,539.2 L1395.2,539.7 L1396.0,542.4 L1396.9,543.2 L1397.7,541.5 L1398.6,543.1 L1399.4,545.7 L1400.2,548.6 L1401.1,552.4 L1401.9,558.2 L1402.8,561.8 L1403.6,562.9 L1404.4,566.4 L1405.3,570.2 L1406.1,573.9 L1407.0,577.8 L1407.8,582.9 L1408.6,585.8 L1409.5,585.5 L1410.3,586.8 L1411.1,588.3 L1412.0,589.5 L1412.8,590.5 L1413.7,592.3 L1414.5,590.8 L1415.3,586.0 L1416.2,583.3 L1417.0,580.0 L1417.9,576.5 L1418.7,573.3 L1419.5,571.6 L1420.4,567.7 L1421.2,561.2 L1422.1,557.2 L1422.9,553.9 L1423.7,551.7 L1424.6,550.2 L1425.4,550.7 L1426.3,549.6 L1427.1,546.4 L1427.9,545.8 L1428.8,545.8 L1429.6,546.2 L1430.5,548.0 L1431.3,551.8 L1432.1,553.5 L1433.0,552.8 L1433.8,554.7 L1434.7,557.1 L1435.5,559.6 L1436.3,562.5 L1437.2,567.0 L1438.0,569.1 L1438.9,568.4 L1439.7,570.0 L1440.5,571.2 L1441.4,571.8 L1442.2,572.6 L1443.1,574.9 L1443.9,574.5 L1444.7,570.5 L1445.6,568.6 L1446.4,566.5 L1447.2,563.2 L1448.1,559.7 L1448.9,557.2 L1449.8,551.5 L1450.6,542.9 L1451.4,536.7 L1452.3,530.8 L1453.1,525.3 L1454.0,520.6 L1454.8,518.0 L1455.6,513.8 L1456.5,507.4 L1457.3,503.9 L1458.2,501.6 L1459.0,500.3 L1459.8,499.5 L1460.7,500.8 L1461.5,500.3 L1462.4,497.6 L1463.2,497.5 L1464.0,497.9 L1464.9,498.5 L1465.7,499.8 L1466.6,503.1 L1467.4,504.3 L1468.2,502.9 L1469.1,504.0 L1469.9,505.4 L1470.8,506.4 L1471.6,507.5 L1472.4,510.2 L1473.3,510.5 L1474.1,507.7 L1475.0,507.2 L1475.8,507.0 L1476.6,506.7 L1477.5,506.6 L1478.3,507.5 L1479.2,505.9 L1480.0,501.4 L1480.8,499.1 L1481.7,497.0 L1482.5,495.0 L1483.3,493.7 L1484.2,494.1 L1485.0,492.4 L1485.9,488.5 L1486.7,487.7 L1487.5,487.5 L1488.4,487.6 L1489.2,488.0 L1490.1,490.2 L1490.9,490.7 L1491.7,488.7 L1492.6,489.4 L1493.4,491.0 L1494.3,493.4 L1495.1,496.4 L1495.9,501.0 L1496.8,503.5 L1497.6,503.3 L1498.5,505.5 L1499.3,508.2 L1500.1,510.9 L1501.0,513.7 L1501.8,518.1 L1502.7,520.3 L1503.5,519.4 L1504.3,520.3 L1505.2,521.4 L1506.0,522.3 L1506.9,523.1 L1507.7,524.3 L1508.5,522.5 L1509.4,517.7 L1510.2,514.8 L1511.1,511.9 L1511.9,508.8 L1512.7,505.7 L1513.6,504.0 L1514.4,500.1 L1515.3,493.5 L1516.1,489.3 L1516.9,485.8 L1517.8,482.5 L1518.6,479.5 L1519.4,478.5 L1520.3,475.9 L1521.1,471.0 L1522.0,468.8 L1522.8,467.4 L1523.6,466.7 L1524.5,466.4 L1525.3,467.9 L1526.2,467.4 L1527.0,464.4 L1527.8,464.2 L1528.7,464.7 L1529.5,465.3 L1530.4,466.3 L1531.2,469.0 L1532.0,469.7 L1532.9,467.7 L1533.7,468.2 L1534.6,469.3 L1535.4,470.5 L1536.2,471.9 L1537.1,474.8 L1537.9,475.2 L1538.8,472.8 L1539.6,472.8 L1540.4,473.2 L1541.3,473.4 L1542.1,473.8 L1543.0,475.6 L1543.8,475.3 L1544.6,472.2 L1545.5,471.6 L1546.3,471.6 L1547.2,471.6 L1548.0,472.0 L1548.8,474.1 L1549.7,474.2 L1550.5,471.6 L1551.4,471.5 L1552.2,471.9 L1553.0,472.3 L1553.9,473.0 L1554.7,475.4 L1555.5,475.6 L1556.4,472.8 L1557.2,472.5 L1558.1,472.5 L1558.9,472.6 L1559.7,472.8 L1560.6,474.7 L1561.4,473.9 L1562.3,470.1 L1563.1,468.5 L1563.9,467.4 L1564.8,466.0 L1565.6,464.7 L1566.5,464.9 L1567.3,462.7 L1568.1,457.5 L1569.0,454.6 L1569.8,452.2 L1570.7,449.7 L1571.5,447.6 L1572.3,447.2 L1573.2,444.9 L1574.0,440.0 L1574.9,437.7 L1575.7,436.1 L1576.5,434.6 L1577.4,433.6 L1578.2,434.3 L1579.1,433.1 L1579.9,429.3 L1580.7,428.5 L1581.6,429.2 L1582.4,430.5 L1583.3,432.4 L1584.1,436.2 L1584.9,437.9 L1585.8,437.6 L1586.6,440.0 L1587.5,442.8 L1588.3,445.4 L1589.1,448.3 L1590.0,452.8 L1590.8,454.7 L1591.6,453.5 L1592.5,454.7 L1593.3,456.2 L1594.2,457.7 L1595.0,459.2 L1595.8,462.3 L1596.7,463.1 L1597.5,461.1 L1598.4,461.6 L1599.2,462.6 L1600.0,463.7 L1600.9,465.0 L1601.7,468.0 L1602.6,468.9 L1603.4,466.8 L1604.2,467.3 L1605.1,468.3 L1605.9,469.5 L1606.8,471.4 L1607.6,475.4 L1608.4,477.5 L1609.3,477.0 L1610.1,478.9 L1611.0,481.4 L1611.8,484.1 L1612.6,487.3 L1613.5,492.2 L1614.3,495.0 L1615.2,495.4 L1616.0,498.3 L1616.8,501.6 L1617.7,504.7 L1618.5,508.2 L1619.4,513.3 L1620.2,515.8 L1621.0,515.0 L1621.9,515.9 L1622.7,517.1 L1623.6,517.9 L1624.4,518.2 L1625.2,519.3 L1626.1,517.5 L1626.9,512.3 L1627.7,507.8 L1628.6,503.0 L1629.4,498.5 L1630.3,494.1 L1631.1,491.1 L1631.9,485.5 L1632.8,476.7 L1633.6,470.5 L1634.5,465.1 L1635.3,460.0 L1636.1,455.6 L1637.0,453.7 L1637.8,449.8 L1638.7,443.9 L1639.5,441.6 L1640.3,440.1 L1641.2,439.2 L1642.0,439.6 L1642.9,441.8 L1643.7,441.8 L1644.5,439.1 L1645.4,439.4 L1646.2,440.6 L1647.1,442.3 L1647.9,446.1 L1648.7,452.2 L1649.6,455.6 L1650.4,455.8 L1651.3,458.4 L1652.1,461.5 L1652.9,465.3 L1653.8,468.9 L1654.6,472.6 L1655.5,473.4 L1656.3,471.2 L1657.1,471.0 L1658.0,470.7 L1658.8,470.1 L1659.6,470.0" fill="none" stroke="#5676e8" stroke-width="7" stroke-linejoin="round" stroke-linecap="round"/>
<circle cx="1353.9" cy="596" r="11" fill="#90ee90" stroke="#087f5b" stroke-width="4"/>
<circle cx="1580.8" cy="429.2" r="11.4" fill="#ffb3c1" stroke="#d90429" stroke-width="4"/>
<path d="M1353.9,595.5 V649.8" stroke="#087f5b" stroke-width="4" stroke-dasharray="12.8 11" fill="none"/>
<path d="M1580.8,429.5 V350.3" stroke="#d90429" stroke-width="4" stroke-dasharray="13 10.5" fill="none"/>
<g opacity="0.999">
<text transform="translate(1581,334.3) scale(1.04,1)" text-anchor="middle" font-size="26.67" font-weight="bold" fill="#d90429">Peak: Sep 2026</text>
<text transform="translate(1353.8,679.5) scale(1.04,1)" text-anchor="middle" font-size="26.67" font-weight="bold" fill="#087f5b">Trough: Jan 2026</text>
<text transform="translate(150.2,137.8) scale(1.04,1)" text-anchor="end" font-size="26.67" fill="#4b5563">$400</text>
<text transform="translate(150.2,344.5) scale(1.04,1)" text-anchor="end" font-size="26.67" fill="#4b5563">$300</text>
<text transform="translate(150.2,551.1) scale(1.04,1)" text-anchor="end" font-size="26.67" fill="#4b5563">$200</text>
<text transform="translate(150.2,757.8) scale(1.04,1)" text-anchor="end" font-size="26.67" fill="#4b5563">$100</text>
<text transform="translate(150.2,964.4) scale(1.04,1)" text-anchor="end" font-size="26.67" fill="#4b5563">$0</text>
<text transform="translate(434.05,1028.8) scale(1.04,1)" text-anchor="middle" font-size="26.67" fill="#4b5563">2023</text>
<text transform="translate(740.5,1028.8) scale(1.04,1)" text-anchor="middle" font-size="26.67" fill="#4b5563">2024</text>
<text transform="translate(1047.8,1028.8) scale(1.04,1)" text-anchor="middle" font-size="26.67" fill="#4b5563">2025</text>
<text transform="translate(1354.2,1028.8) scale(1.04,1)" text-anchor="middle" font-size="26.67" fill="#4b5563">2026</text>
<text transform="translate(1660.6,1028.8) scale(1.04,1)" text-anchor="middle" font-size="26.67" fill="#4b5563">2027</text>
<text transform="translate(947.7,1065.4) scale(1.04,1)" text-anchor="middle" font-size="32" fill="#4b5563">Date</text>
<text transform="translate(65.8,558) rotate(-90) scale(1.04,1)" text-anchor="middle" font-size="32" fill="#4b5563">Price (USD)</text>
<text transform="translate(256.8,90.2) scale(1.053,1)" text-anchor="start" font-size="24" fill="#111">Forecast</text>
<text transform="translate(440.6,90.2) scale(1.053,1)" text-anchor="start" font-size="24" fill="#111">Historical Price</text>
<text transform="translate(767.2,90.2) scale(1.053,1)" text-anchor="start" font-size="24" fill="#111">60% Confidence</text>
<text transform="translate(1048.8,90.2) scale(1.053,1)" text-anchor="start" font-size="24" fill="#111">Potential DCA Zone</text>
</g>
<path d="M199.5,80.5 H238" stroke="#4361ee" stroke-width="9.5"/>
<path d="M384,80.5 H422.5" stroke="#2b2d42" stroke-width="9.5"/>
<rect x="707" y="59" width="44" height="44" fill="#add8e6" fill-opacity="0.5"/>
<rect x="989" y="59" width="44" height="44" fill="#4361ee" fill-opacity="0.5"/>
</svg></body></html>
